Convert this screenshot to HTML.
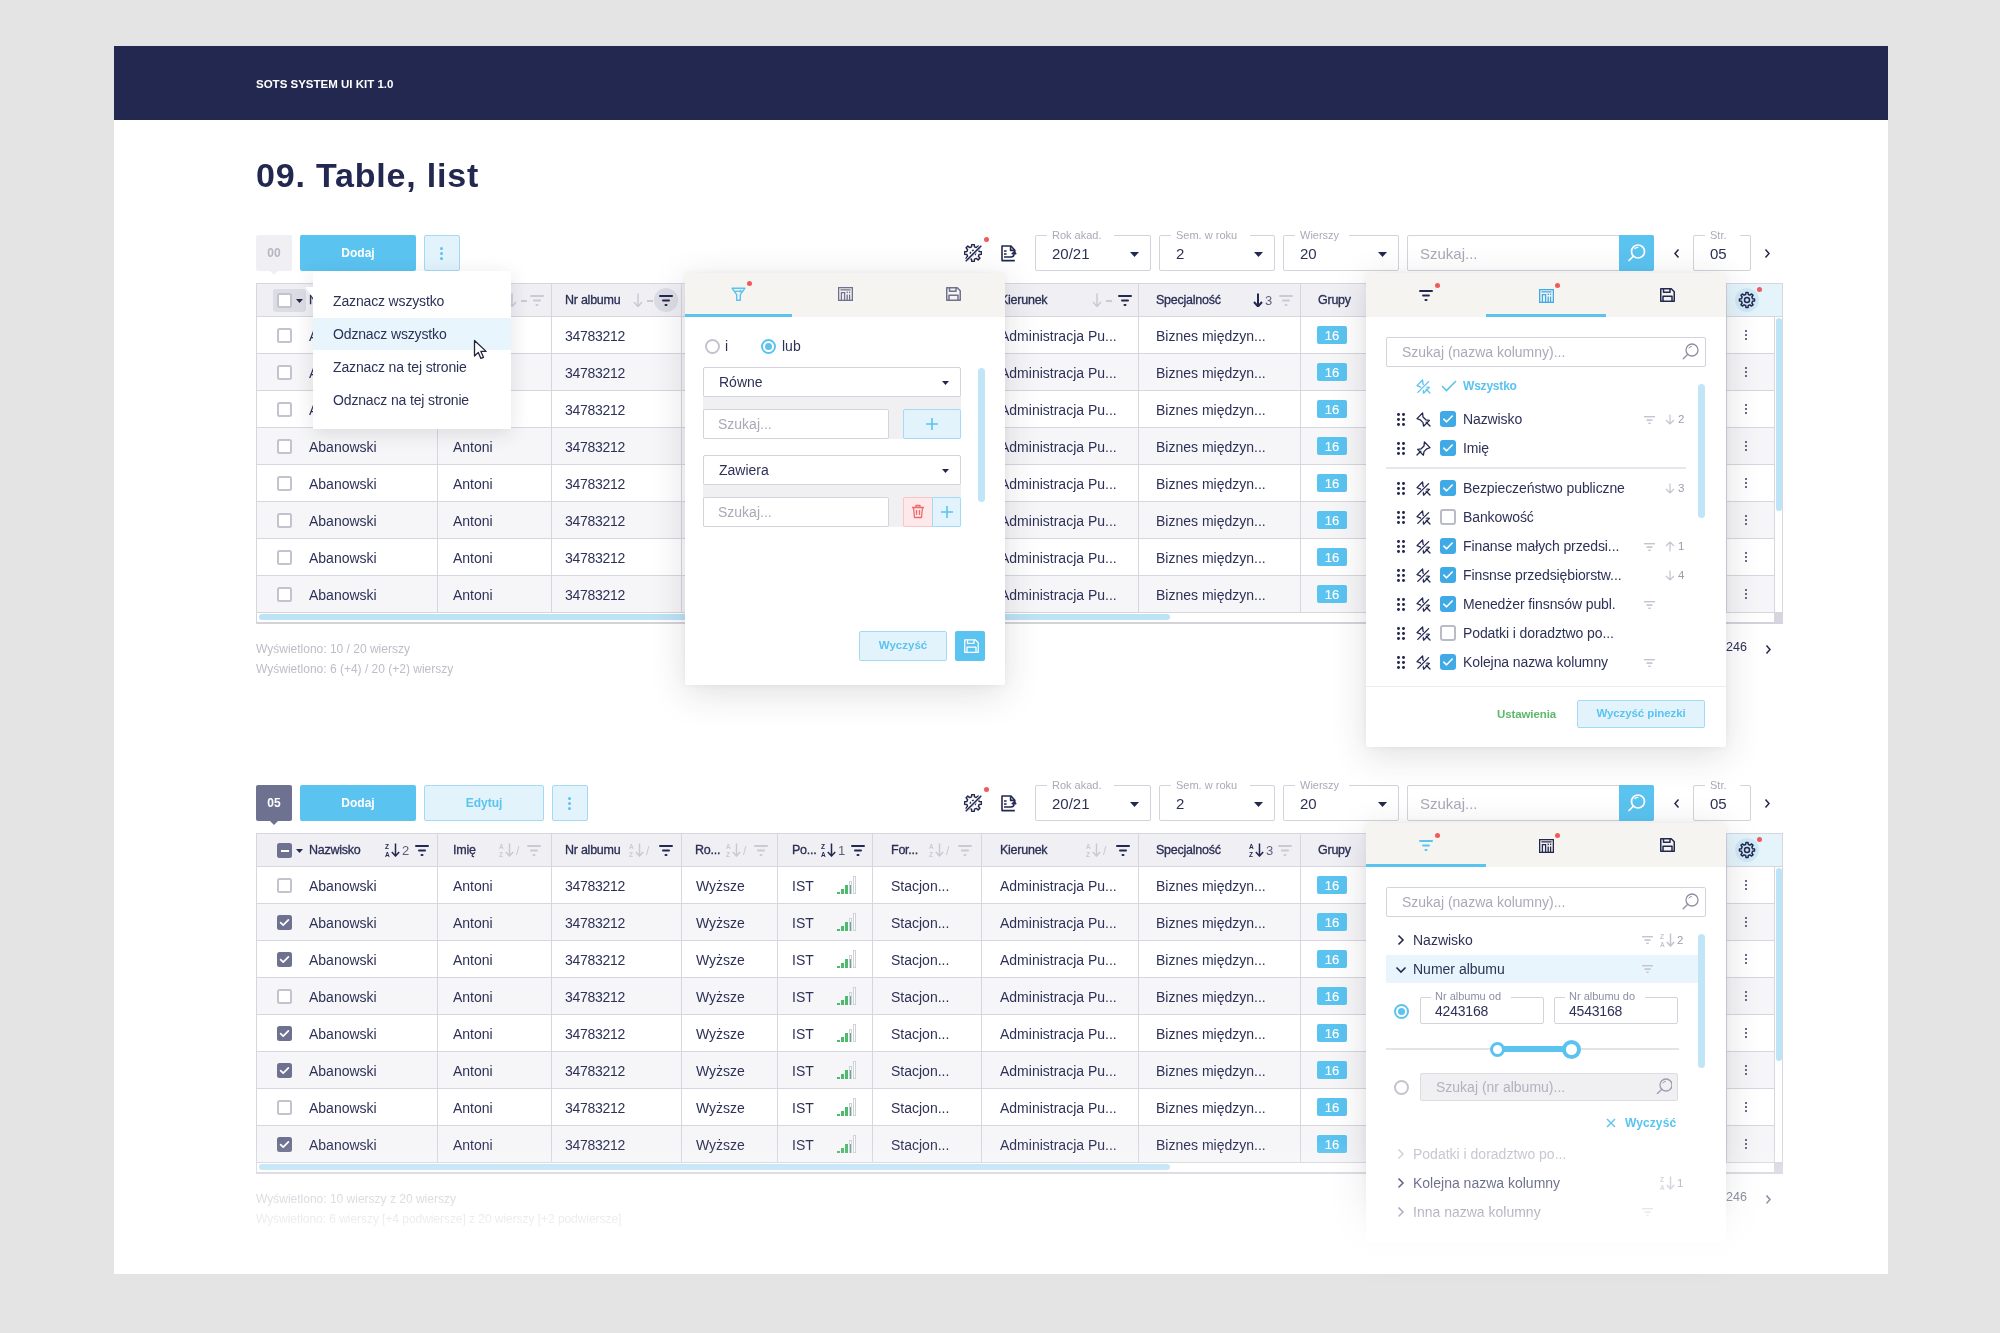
<!DOCTYPE html><html><head><meta charset="utf-8"><style>
*{margin:0;padding:0;box-sizing:border-box}
html,body{width:2000px;height:1333px;overflow:hidden}
body{background:#e3e4e3;font-family:"Liberation Sans",sans-serif;position:relative;color:#262a4f}
div,span,svg{position:absolute}
.t{white-space:nowrap;line-height:1}
#root{position:absolute;left:0;top:0;width:2000px;height:1333px;will-change:transform}
</style></head><body><div id="root">
<div style="left:0;top:0;width:2000px;height:1333px;background:#e3e4e3"></div>
<div style="left:114px;top:46px;width:1774px;height:1228px;background:#fff"></div>
<div style="left:114px;top:46px;width:1774px;height:74px;background:#232850"></div>
<div class="t" style="left:256px;top:79.27px;font-size:11.5px;color:#ffffff;font-weight:700;">SOTS SYSTEM UI KIT 1.0</div>
<div class="t" style="left:256px;top:158.22px;font-size:34px;color:#232850;font-weight:700;letter-spacing:0.8px">09. Table, list</div>
<div style="left:256px;top:235px;width:36px;height:36px;background:#f0f0f4;border-radius:2px"></div>
<div class="t" style="left:74px;width:400px;text-align:center;top:246.84px;font-size:12px;color:#b6b6c3;font-weight:700;">00</div>
<svg style="position:absolute;left:270px;top:271px;" width="8" height="4" viewBox="0 0 8 4" fill="none"><path d="M0 0H8L4 4z" fill="#f0f0f4"/></svg>
<div style="left:300px;top:235px;width:116px;height:36px;background:#5bc3f0;border-radius:2px"></div>
<div class="t" style="left:158px;width:400px;text-align:center;top:246.84px;font-size:12px;color:#fff;font-weight:700;">Dodaj</div>
<div style="left:424px;top:235px;width:36px;height:36px;background:#e2f3fc;border:1px solid #a3dbf5;border-radius:2px"></div>
<div style="left:440px;top:246.5px;width:3.4px;height:3.4px;background:#5bc3f0;border-radius:50%"></div>
<div style="left:440px;top:251.5px;width:3.4px;height:3.4px;background:#5bc3f0;border-radius:50%"></div>
<div style="left:440px;top:256.5px;width:3.4px;height:3.4px;background:#5bc3f0;border-radius:50%"></div>
<svg style="position:absolute;left:964px;top:244px;" width="18" height="18" viewBox="0 0 18 18" fill="none"><g stroke="#232850" stroke-width="1.5" stroke-linejoin="round" fill="none">
<path d="M7.48 2.89 L7.79 0.49 L10.21 0.49 L10.52 2.89 L12.25 3.60 L14.16 2.12 L15.88 3.84 L14.40 5.75 L15.11 7.48 L17.51 7.79 L17.51 10.21 L15.11 10.52 L14.40 12.25 L15.88 14.16 L14.16 15.88 L12.25 14.40 L10.52 15.11 L10.21 17.51 L7.79 17.51 L7.48 15.11 L5.75 14.40 L3.84 15.88 L2.12 14.16 L3.60 12.25 L2.89 10.52 L0.49 10.21 L0.49 7.79 L2.89 7.48 L3.60 5.75 L2.12 3.84 L3.84 2.12 L5.75 3.60Z"/><circle cx="9" cy="9" r="2.6" stroke-dasharray="2 1.6"/></g>
<path d="M1.8 17.2 17.2 1.8" stroke="#fff" stroke-width="3"/><path d="M2.2 16.8 16.8 2.2" stroke="#232850" stroke-width="1.6" stroke-linecap="round"/></svg>
<div style="left:983.5px;top:236.5px;width:5px;height:5px;background:#ef5a5a;border-radius:50%"></div>
<svg style="position:absolute;left:1001px;top:245px;" width="16" height="17" viewBox="0 0 16 17" fill="none"><g stroke="#232850" stroke-width="1.6" stroke-linejoin="round" stroke-linecap="butt" fill="none">
<path d="M13.8 9V5.2L10 1H1v14.6h12.8"/><path d="M9.6 1.2v4.2h4"/><path d="M3 6h2.6M3 9h2.6"/><path d="M3 12h7a3 3 0 0 0 3-3V7.4"/><path d="M10.8 9.2 13 7l2.2 2.2"/></g></svg>
<div style="left:1035px;top:235px;width:116px;height:36px;border:1px solid #d3d3dc;border-radius:2px;background:#fff"></div>
<div style="left:1047px;top:229px;width:66.69999999999999px;height:10px;background:#fff"></div>
<div class="t" style="left:1052px;top:229.69px;font-size:11px;color:#a9aab8;font-weight:400;">Rok akad.</div>
<div class="t" style="left:1052px;top:246.3px;font-size:15px;color:#2d3157;font-weight:400;">20/21</div>
<svg style="position:absolute;left:1130px;top:252px;" width="9" height="5" viewBox="0 0 9 5" fill="none"><path d="M0 0H9L4.5 5z" fill="#232850"/></svg>
<div style="left:1159px;top:235px;width:116px;height:36px;border:1px solid #d3d3dc;border-radius:2px;background:#fff"></div>
<div style="left:1171px;top:229px;width:79.3px;height:10px;background:#fff"></div>
<div class="t" style="left:1176px;top:229.69px;font-size:11px;color:#a9aab8;font-weight:400;">Sem. w roku</div>
<div class="t" style="left:1176px;top:246.3px;font-size:15px;color:#2d3157;font-weight:400;">2</div>
<svg style="position:absolute;left:1254px;top:252px;" width="9" height="5" viewBox="0 0 9 5" fill="none"><path d="M0 0H9L4.5 5z" fill="#232850"/></svg>
<div style="left:1283px;top:235px;width:116px;height:36px;border:1px solid #d3d3dc;border-radius:2px;background:#fff"></div>
<div style="left:1295px;top:229px;width:54.1px;height:10px;background:#fff"></div>
<div class="t" style="left:1300px;top:229.69px;font-size:11px;color:#a9aab8;font-weight:400;">Wierszy</div>
<div class="t" style="left:1300px;top:246.3px;font-size:15px;color:#2d3157;font-weight:400;">20</div>
<svg style="position:absolute;left:1378px;top:252px;" width="9" height="5" viewBox="0 0 9 5" fill="none"><path d="M0 0H9L4.5 5z" fill="#232850"/></svg>
<div style="left:1407px;top:235px;width:247px;height:36px;border:1px solid #d3d3dc;border-radius:2px;background:#fff"></div>
<div class="t" style="left:1420px;top:246.3px;font-size:15px;color:#a9aab8;font-weight:400;">Szukaj...</div>
<div style="left:1619px;top:235px;width:35px;height:36px;background:#5bc3f0;border-radius:0 2px 2px 0"></div>
<svg style="position:absolute;left:1627px;top:243px;" width="20" height="20" viewBox="0 0 20 20" fill="none"><g stroke="#fff" stroke-width="1.7" stroke-linecap="round"><circle cx="11" cy="8.5" r="6.5"/><path d="M6.4 13.1 2 17.5"/><path d="M8 5.5a4 4 0 0 1 3-1.2" stroke-width="1.3"/></g></svg>
<svg style="position:absolute;left:1673px;top:248px;" width="8" height="11" viewBox="0 0 8 11" fill="none"><path d="M5.5 1.5 2 5.5l3.5 4" stroke="#232850" stroke-width="1.5" fill="none"/></svg>
<div style="left:1693px;top:235px;width:58px;height:36px;border:1px solid #d3d3dc;border-radius:2px;background:#fff"></div>
<div style="left:1705px;top:229px;width:35.2px;height:10px;background:#fff"></div>
<div class="t" style="left:1710px;top:229.69px;font-size:11px;color:#a9aab8;font-weight:400;">Str.</div>
<div class="t" style="left:1710px;top:246.3px;font-size:15px;color:#2d3157;font-weight:400;">05</div>
<svg style="position:absolute;left:1763px;top:248px;" width="8" height="11" viewBox="0 0 8 11" fill="none"><path d="M2.5 1.5 6 5.5l-3.5 4" stroke="#232850" stroke-width="1.5" fill="none"/></svg>
<div style="left:256px;top:785px;width:36px;height:36px;background:#6f7190;border-radius:2px"></div>
<div class="t" style="left:74px;width:400px;text-align:center;top:796.84px;font-size:12px;color:#fff;font-weight:700;">05</div>
<svg style="position:absolute;left:270px;top:821px;" width="8" height="4" viewBox="0 0 8 4" fill="none"><path d="M0 0H8L4 4z" fill="#6f7190"/></svg>
<div style="left:300px;top:785px;width:116px;height:36px;background:#5bc3f0;border-radius:2px"></div>
<div class="t" style="left:158px;width:400px;text-align:center;top:796.84px;font-size:12px;color:#fff;font-weight:700;">Dodaj</div>
<div style="left:424px;top:785px;width:120px;height:36px;background:#e2f3fc;border:1px solid #a3dbf5;border-radius:2px"></div>
<div class="t" style="left:284px;width:400px;text-align:center;top:796.84px;font-size:12px;color:#5bc3f0;font-weight:700;">Edytuj</div>
<div style="left:552px;top:785px;width:36px;height:36px;background:#e2f3fc;border:1px solid #a3dbf5;border-radius:2px"></div>
<div style="left:568px;top:796.5px;width:3.4px;height:3.4px;background:#5bc3f0;border-radius:50%"></div>
<div style="left:568px;top:801.5px;width:3.4px;height:3.4px;background:#5bc3f0;border-radius:50%"></div>
<div style="left:568px;top:806.5px;width:3.4px;height:3.4px;background:#5bc3f0;border-radius:50%"></div>
<svg style="position:absolute;left:964px;top:794px;" width="18" height="18" viewBox="0 0 18 18" fill="none"><g stroke="#232850" stroke-width="1.5" stroke-linejoin="round" fill="none">
<path d="M7.48 2.89 L7.79 0.49 L10.21 0.49 L10.52 2.89 L12.25 3.60 L14.16 2.12 L15.88 3.84 L14.40 5.75 L15.11 7.48 L17.51 7.79 L17.51 10.21 L15.11 10.52 L14.40 12.25 L15.88 14.16 L14.16 15.88 L12.25 14.40 L10.52 15.11 L10.21 17.51 L7.79 17.51 L7.48 15.11 L5.75 14.40 L3.84 15.88 L2.12 14.16 L3.60 12.25 L2.89 10.52 L0.49 10.21 L0.49 7.79 L2.89 7.48 L3.60 5.75 L2.12 3.84 L3.84 2.12 L5.75 3.60Z"/><circle cx="9" cy="9" r="2.6" stroke-dasharray="2 1.6"/></g>
<path d="M1.8 17.2 17.2 1.8" stroke="#fff" stroke-width="3"/><path d="M2.2 16.8 16.8 2.2" stroke="#232850" stroke-width="1.6" stroke-linecap="round"/></svg>
<div style="left:983.5px;top:786.5px;width:5px;height:5px;background:#ef5a5a;border-radius:50%"></div>
<svg style="position:absolute;left:1001px;top:795px;" width="16" height="17" viewBox="0 0 16 17" fill="none"><g stroke="#232850" stroke-width="1.6" stroke-linejoin="round" stroke-linecap="butt" fill="none">
<path d="M13.8 9V5.2L10 1H1v14.6h12.8"/><path d="M9.6 1.2v4.2h4"/><path d="M3 6h2.6M3 9h2.6"/><path d="M3 12h7a3 3 0 0 0 3-3V7.4"/><path d="M10.8 9.2 13 7l2.2 2.2"/></g></svg>
<div style="left:1035px;top:785px;width:116px;height:36px;border:1px solid #d3d3dc;border-radius:2px;background:#fff"></div>
<div style="left:1047px;top:779px;width:66.69999999999999px;height:10px;background:#fff"></div>
<div class="t" style="left:1052px;top:779.69px;font-size:11px;color:#a9aab8;font-weight:400;">Rok akad.</div>
<div class="t" style="left:1052px;top:796.3px;font-size:15px;color:#2d3157;font-weight:400;">20/21</div>
<svg style="position:absolute;left:1130px;top:802px;" width="9" height="5" viewBox="0 0 9 5" fill="none"><path d="M0 0H9L4.5 5z" fill="#232850"/></svg>
<div style="left:1159px;top:785px;width:116px;height:36px;border:1px solid #d3d3dc;border-radius:2px;background:#fff"></div>
<div style="left:1171px;top:779px;width:79.3px;height:10px;background:#fff"></div>
<div class="t" style="left:1176px;top:779.69px;font-size:11px;color:#a9aab8;font-weight:400;">Sem. w roku</div>
<div class="t" style="left:1176px;top:796.3px;font-size:15px;color:#2d3157;font-weight:400;">2</div>
<svg style="position:absolute;left:1254px;top:802px;" width="9" height="5" viewBox="0 0 9 5" fill="none"><path d="M0 0H9L4.5 5z" fill="#232850"/></svg>
<div style="left:1283px;top:785px;width:116px;height:36px;border:1px solid #d3d3dc;border-radius:2px;background:#fff"></div>
<div style="left:1295px;top:779px;width:54.1px;height:10px;background:#fff"></div>
<div class="t" style="left:1300px;top:779.69px;font-size:11px;color:#a9aab8;font-weight:400;">Wierszy</div>
<div class="t" style="left:1300px;top:796.3px;font-size:15px;color:#2d3157;font-weight:400;">20</div>
<svg style="position:absolute;left:1378px;top:802px;" width="9" height="5" viewBox="0 0 9 5" fill="none"><path d="M0 0H9L4.5 5z" fill="#232850"/></svg>
<div style="left:1407px;top:785px;width:247px;height:36px;border:1px solid #d3d3dc;border-radius:2px;background:#fff"></div>
<div class="t" style="left:1420px;top:796.3px;font-size:15px;color:#a9aab8;font-weight:400;">Szukaj...</div>
<div style="left:1619px;top:785px;width:35px;height:36px;background:#5bc3f0;border-radius:0 2px 2px 0"></div>
<svg style="position:absolute;left:1627px;top:793px;" width="20" height="20" viewBox="0 0 20 20" fill="none"><g stroke="#fff" stroke-width="1.7" stroke-linecap="round"><circle cx="11" cy="8.5" r="6.5"/><path d="M6.4 13.1 2 17.5"/><path d="M8 5.5a4 4 0 0 1 3-1.2" stroke-width="1.3"/></g></svg>
<svg style="position:absolute;left:1673px;top:798px;" width="8" height="11" viewBox="0 0 8 11" fill="none"><path d="M5.5 1.5 2 5.5l3.5 4" stroke="#232850" stroke-width="1.5" fill="none"/></svg>
<div style="left:1693px;top:785px;width:58px;height:36px;border:1px solid #d3d3dc;border-radius:2px;background:#fff"></div>
<div style="left:1705px;top:779px;width:35.2px;height:10px;background:#fff"></div>
<div class="t" style="left:1710px;top:779.69px;font-size:11px;color:#a9aab8;font-weight:400;">Str.</div>
<div class="t" style="left:1710px;top:796.3px;font-size:15px;color:#2d3157;font-weight:400;">05</div>
<svg style="position:absolute;left:1763px;top:798px;" width="8" height="11" viewBox="0 0 8 11" fill="none"><path d="M2.5 1.5 6 5.5l-3.5 4" stroke="#232850" stroke-width="1.5" fill="none"/></svg>
<div style="left:256px;top:283px;width:1527px;height:341px;border:1px solid #d6d6df;border-bottom:2px solid #d3d3dc;background:#fff"></div>
<div style="left:257px;top:284px;width:1525px;height:32px;background:#efeff4"></div>
<div style="left:257px;top:317px;width:1517px;height:36px;background:#fff"></div>
<div style="left:257px;top:353px;width:1517px;height:1px;background:#d6d6df"></div>
<div style="left:257px;top:354px;width:1517px;height:36px;background:#f6f6f8"></div>
<div style="left:257px;top:390px;width:1517px;height:1px;background:#d6d6df"></div>
<div style="left:257px;top:391px;width:1517px;height:36px;background:#fff"></div>
<div style="left:257px;top:427px;width:1517px;height:1px;background:#d6d6df"></div>
<div style="left:257px;top:428px;width:1517px;height:36px;background:#f6f6f8"></div>
<div style="left:257px;top:464px;width:1517px;height:1px;background:#d6d6df"></div>
<div style="left:257px;top:465px;width:1517px;height:36px;background:#fff"></div>
<div style="left:257px;top:501px;width:1517px;height:1px;background:#d6d6df"></div>
<div style="left:257px;top:502px;width:1517px;height:36px;background:#f6f6f8"></div>
<div style="left:257px;top:538px;width:1517px;height:1px;background:#d6d6df"></div>
<div style="left:257px;top:539px;width:1517px;height:36px;background:#fff"></div>
<div style="left:257px;top:575px;width:1517px;height:1px;background:#d6d6df"></div>
<div style="left:257px;top:576px;width:1517px;height:36px;background:#f6f6f8"></div>
<div style="left:257px;top:612px;width:1517px;height:1px;background:#d6d6df"></div>
<div style="left:257px;top:316px;width:1525px;height:1px;background:#d6d6df"></div>
<div style="left:437px;top:284px;width:1px;height:329px;background:#d6d6df"></div>
<div style="left:551px;top:284px;width:1px;height:329px;background:#d6d6df"></div>
<div style="left:681px;top:284px;width:1px;height:329px;background:#d6d6df"></div>
<div style="left:777px;top:284px;width:1px;height:329px;background:#d6d6df"></div>
<div style="left:872px;top:284px;width:1px;height:329px;background:#d6d6df"></div>
<div style="left:981px;top:284px;width:1px;height:329px;background:#d6d6df"></div>
<div style="left:1138px;top:284px;width:1px;height:329px;background:#d6d6df"></div>
<div style="left:1300px;top:284px;width:1px;height:329px;background:#d6d6df"></div>
<div style="left:1726px;top:284px;width:1px;height:329px;background:#d6d6df"></div>
<div style="left:1774px;top:317px;width:1px;height:296px;background:#d6d6df"></div>
<div style="left:1727px;top:284px;width:55px;height:32px;background:#e5f4fb"></div>
<div style="left:1735px;top:288px;width:24px;height:24px;background:#d0e9f6;border-radius:50%"></div>
<svg style="position:absolute;left:1738px;top:291px;" width="18" height="18" viewBox="0 0 18 18" fill="none"><g stroke="#232850" stroke-width="1.5" fill="none" stroke-linejoin="round"><path d="M7.67 3.46 L7.99 1.47 L10.01 1.47 L10.33 3.46 L11.98 4.14 L13.61 2.96 L15.04 4.39 L13.86 6.02 L14.54 7.67 L16.53 7.99 L16.53 10.01 L14.54 10.33 L13.86 11.98 L15.04 13.61 L13.61 15.04 L11.98 13.86 L10.33 14.54 L10.01 16.53 L7.99 16.53 L7.67 14.54 L6.02 13.86 L4.39 15.04 L2.96 13.61 L4.14 11.98 L3.46 10.33 L1.47 10.01 L1.47 7.99 L3.46 7.67 L4.14 6.02 L2.96 4.39 L4.39 2.96 L6.02 4.14Z"/><circle cx="9" cy="9" r="2.5"/></g></svg>
<div style="left:1757px;top:287px;width:5px;height:5px;background:#ef5a5a;border-radius:50%"></div>
<div style="left:1744.65px;top:329.75px;width:2.7px;height:2.7px;background:#3a3d60;border-radius:50%"></div>
<div style="left:1744.65px;top:333.65px;width:2.7px;height:2.7px;background:#3a3d60;border-radius:50%"></div>
<div style="left:1744.65px;top:337.54999999999995px;width:2.7px;height:2.7px;background:#3a3d60;border-radius:50%"></div>
<div style="left:1744.65px;top:366.75px;width:2.7px;height:2.7px;background:#3a3d60;border-radius:50%"></div>
<div style="left:1744.65px;top:370.65px;width:2.7px;height:2.7px;background:#3a3d60;border-radius:50%"></div>
<div style="left:1744.65px;top:374.54999999999995px;width:2.7px;height:2.7px;background:#3a3d60;border-radius:50%"></div>
<div style="left:1744.65px;top:403.75px;width:2.7px;height:2.7px;background:#3a3d60;border-radius:50%"></div>
<div style="left:1744.65px;top:407.65px;width:2.7px;height:2.7px;background:#3a3d60;border-radius:50%"></div>
<div style="left:1744.65px;top:411.54999999999995px;width:2.7px;height:2.7px;background:#3a3d60;border-radius:50%"></div>
<div style="left:1744.65px;top:440.75px;width:2.7px;height:2.7px;background:#3a3d60;border-radius:50%"></div>
<div style="left:1744.65px;top:444.65px;width:2.7px;height:2.7px;background:#3a3d60;border-radius:50%"></div>
<div style="left:1744.65px;top:448.54999999999995px;width:2.7px;height:2.7px;background:#3a3d60;border-radius:50%"></div>
<div style="left:1744.65px;top:477.75px;width:2.7px;height:2.7px;background:#3a3d60;border-radius:50%"></div>
<div style="left:1744.65px;top:481.65px;width:2.7px;height:2.7px;background:#3a3d60;border-radius:50%"></div>
<div style="left:1744.65px;top:485.54999999999995px;width:2.7px;height:2.7px;background:#3a3d60;border-radius:50%"></div>
<div style="left:1744.65px;top:514.75px;width:2.7px;height:2.7px;background:#3a3d60;border-radius:50%"></div>
<div style="left:1744.65px;top:518.65px;width:2.7px;height:2.7px;background:#3a3d60;border-radius:50%"></div>
<div style="left:1744.65px;top:522.55px;width:2.7px;height:2.7px;background:#3a3d60;border-radius:50%"></div>
<div style="left:1744.65px;top:551.75px;width:2.7px;height:2.7px;background:#3a3d60;border-radius:50%"></div>
<div style="left:1744.65px;top:555.65px;width:2.7px;height:2.7px;background:#3a3d60;border-radius:50%"></div>
<div style="left:1744.65px;top:559.55px;width:2.7px;height:2.7px;background:#3a3d60;border-radius:50%"></div>
<div style="left:1744.65px;top:588.75px;width:2.7px;height:2.7px;background:#3a3d60;border-radius:50%"></div>
<div style="left:1744.65px;top:592.65px;width:2.7px;height:2.7px;background:#3a3d60;border-radius:50%"></div>
<div style="left:1744.65px;top:596.55px;width:2.7px;height:2.7px;background:#3a3d60;border-radius:50%"></div>
<div style="left:1712px;top:317px;width:14px;height:296px;background:linear-gradient(90deg,rgba(0,0,0,0),rgba(0,0,0,0.035))"></div>
<div style="left:1776px;top:318px;width:6px;height:193px;background:#bde3f6;border-radius:3px"></div>
<div style="left:1774px;top:612px;width:8px;height:10px;background:#d6d6df"></div>
<div style="left:259px;top:614px;width:911px;height:6px;background:#bde3f6;border-radius:3px"></div>
<div class="t" style="left:309px;top:328.75px;font-size:14px;color:#2d3157;font-weight:400;">Abanowski</div>
<div class="t" style="left:453px;top:328.75px;font-size:14px;color:#2d3157;font-weight:400;">Antoni</div>
<div class="t" style="left:565px;top:328.75px;font-size:14px;color:#2d3157;font-weight:400;letter-spacing:-0.3px">34783212</div>
<div class="t" style="left:696px;top:328.75px;font-size:14px;color:#2d3157;font-weight:400;">Wyższe</div>
<div class="t" style="left:792px;top:328.75px;font-size:14px;color:#2d3157;font-weight:400;">IST</div>
<div style="left:837px;top:342px;width:3px;height:2px;background:#4fba6f"></div>
<div style="left:841px;top:339px;width:3px;height:5px;background:#4fba6f"></div>
<div style="left:845px;top:335px;width:3px;height:9px;background:#4fba6f"></div>
<div style="left:849px;top:331px;width:3px;height:13px;background:#4fba6f;border:1px solid #cfd0da;border-bottom:0;background:linear-gradient(#fff 0 3px,#4fba6f 3px)"></div>
<div style="left:853px;top:326px;width:3px;height:18px;border:1px solid #cfd0da;background:#fff"></div>
<div class="t" style="left:891px;top:328.75px;font-size:14px;color:#2d3157;font-weight:400;">Stacjon...</div>
<div class="t" style="left:1000px;top:328.75px;font-size:14px;color:#2d3157;font-weight:400;">Administracja Pu...</div>
<div class="t" style="left:1156px;top:328.75px;font-size:14px;color:#2d3157;font-weight:400;">Biznes międzyn...</div>
<div style="left:1317px;top:326px;width:30px;height:18px;background:#5bc3f0;border-radius:2px"></div>
<div class="t" style="left:1132px;width:400px;text-align:center;top:328.5px;font-size:13px;color:#fff;font-weight:400;-webkit-text-stroke:0.15px #fff">16</div>
<div style="left:277px;top:328px;width:15px;height:15px;border:2px solid #c3c3cf;border-radius:2.5px;background:#fff"></div>
<div class="t" style="left:309px;top:365.75px;font-size:14px;color:#2d3157;font-weight:400;">Abanowski</div>
<div class="t" style="left:453px;top:365.75px;font-size:14px;color:#2d3157;font-weight:400;">Antoni</div>
<div class="t" style="left:565px;top:365.75px;font-size:14px;color:#2d3157;font-weight:400;letter-spacing:-0.3px">34783212</div>
<div class="t" style="left:696px;top:365.75px;font-size:14px;color:#2d3157;font-weight:400;">Wyższe</div>
<div class="t" style="left:792px;top:365.75px;font-size:14px;color:#2d3157;font-weight:400;">IST</div>
<div style="left:837px;top:379px;width:3px;height:2px;background:#4fba6f"></div>
<div style="left:841px;top:376px;width:3px;height:5px;background:#4fba6f"></div>
<div style="left:845px;top:372px;width:3px;height:9px;background:#4fba6f"></div>
<div style="left:849px;top:368px;width:3px;height:13px;background:#4fba6f;border:1px solid #cfd0da;border-bottom:0;background:linear-gradient(#fff 0 3px,#4fba6f 3px)"></div>
<div style="left:853px;top:363px;width:3px;height:18px;border:1px solid #cfd0da;background:#fff"></div>
<div class="t" style="left:891px;top:365.75px;font-size:14px;color:#2d3157;font-weight:400;">Stacjon...</div>
<div class="t" style="left:1000px;top:365.75px;font-size:14px;color:#2d3157;font-weight:400;">Administracja Pu...</div>
<div class="t" style="left:1156px;top:365.75px;font-size:14px;color:#2d3157;font-weight:400;">Biznes międzyn...</div>
<div style="left:1317px;top:363px;width:30px;height:18px;background:#5bc3f0;border-radius:2px"></div>
<div class="t" style="left:1132px;width:400px;text-align:center;top:365.5px;font-size:13px;color:#fff;font-weight:400;-webkit-text-stroke:0.15px #fff">16</div>
<div style="left:277px;top:365px;width:15px;height:15px;border:2px solid #c3c3cf;border-radius:2.5px;background:#fff"></div>
<div class="t" style="left:309px;top:402.75px;font-size:14px;color:#2d3157;font-weight:400;">Abanowski</div>
<div class="t" style="left:453px;top:402.75px;font-size:14px;color:#2d3157;font-weight:400;">Antoni</div>
<div class="t" style="left:565px;top:402.75px;font-size:14px;color:#2d3157;font-weight:400;letter-spacing:-0.3px">34783212</div>
<div class="t" style="left:696px;top:402.75px;font-size:14px;color:#2d3157;font-weight:400;">Wyższe</div>
<div class="t" style="left:792px;top:402.75px;font-size:14px;color:#2d3157;font-weight:400;">IST</div>
<div style="left:837px;top:416px;width:3px;height:2px;background:#4fba6f"></div>
<div style="left:841px;top:413px;width:3px;height:5px;background:#4fba6f"></div>
<div style="left:845px;top:409px;width:3px;height:9px;background:#4fba6f"></div>
<div style="left:849px;top:405px;width:3px;height:13px;background:#4fba6f;border:1px solid #cfd0da;border-bottom:0;background:linear-gradient(#fff 0 3px,#4fba6f 3px)"></div>
<div style="left:853px;top:400px;width:3px;height:18px;border:1px solid #cfd0da;background:#fff"></div>
<div class="t" style="left:891px;top:402.75px;font-size:14px;color:#2d3157;font-weight:400;">Stacjon...</div>
<div class="t" style="left:1000px;top:402.75px;font-size:14px;color:#2d3157;font-weight:400;">Administracja Pu...</div>
<div class="t" style="left:1156px;top:402.75px;font-size:14px;color:#2d3157;font-weight:400;">Biznes międzyn...</div>
<div style="left:1317px;top:400px;width:30px;height:18px;background:#5bc3f0;border-radius:2px"></div>
<div class="t" style="left:1132px;width:400px;text-align:center;top:402.5px;font-size:13px;color:#fff;font-weight:400;-webkit-text-stroke:0.15px #fff">16</div>
<div style="left:277px;top:402px;width:15px;height:15px;border:2px solid #c3c3cf;border-radius:2.5px;background:#fff"></div>
<div class="t" style="left:309px;top:439.75px;font-size:14px;color:#2d3157;font-weight:400;">Abanowski</div>
<div class="t" style="left:453px;top:439.75px;font-size:14px;color:#2d3157;font-weight:400;">Antoni</div>
<div class="t" style="left:565px;top:439.75px;font-size:14px;color:#2d3157;font-weight:400;letter-spacing:-0.3px">34783212</div>
<div class="t" style="left:696px;top:439.75px;font-size:14px;color:#2d3157;font-weight:400;">Wyższe</div>
<div class="t" style="left:792px;top:439.75px;font-size:14px;color:#2d3157;font-weight:400;">IST</div>
<div style="left:837px;top:453px;width:3px;height:2px;background:#4fba6f"></div>
<div style="left:841px;top:450px;width:3px;height:5px;background:#4fba6f"></div>
<div style="left:845px;top:446px;width:3px;height:9px;background:#4fba6f"></div>
<div style="left:849px;top:442px;width:3px;height:13px;background:#4fba6f;border:1px solid #cfd0da;border-bottom:0;background:linear-gradient(#fff 0 3px,#4fba6f 3px)"></div>
<div style="left:853px;top:437px;width:3px;height:18px;border:1px solid #cfd0da;background:#fff"></div>
<div class="t" style="left:891px;top:439.75px;font-size:14px;color:#2d3157;font-weight:400;">Stacjon...</div>
<div class="t" style="left:1000px;top:439.75px;font-size:14px;color:#2d3157;font-weight:400;">Administracja Pu...</div>
<div class="t" style="left:1156px;top:439.75px;font-size:14px;color:#2d3157;font-weight:400;">Biznes międzyn...</div>
<div style="left:1317px;top:437px;width:30px;height:18px;background:#5bc3f0;border-radius:2px"></div>
<div class="t" style="left:1132px;width:400px;text-align:center;top:439.5px;font-size:13px;color:#fff;font-weight:400;-webkit-text-stroke:0.15px #fff">16</div>
<div style="left:277px;top:439px;width:15px;height:15px;border:2px solid #c3c3cf;border-radius:2.5px;background:#fff"></div>
<div class="t" style="left:309px;top:476.75px;font-size:14px;color:#2d3157;font-weight:400;">Abanowski</div>
<div class="t" style="left:453px;top:476.75px;font-size:14px;color:#2d3157;font-weight:400;">Antoni</div>
<div class="t" style="left:565px;top:476.75px;font-size:14px;color:#2d3157;font-weight:400;letter-spacing:-0.3px">34783212</div>
<div class="t" style="left:696px;top:476.75px;font-size:14px;color:#2d3157;font-weight:400;">Wyższe</div>
<div class="t" style="left:792px;top:476.75px;font-size:14px;color:#2d3157;font-weight:400;">IST</div>
<div style="left:837px;top:490px;width:3px;height:2px;background:#4fba6f"></div>
<div style="left:841px;top:487px;width:3px;height:5px;background:#4fba6f"></div>
<div style="left:845px;top:483px;width:3px;height:9px;background:#4fba6f"></div>
<div style="left:849px;top:479px;width:3px;height:13px;background:#4fba6f;border:1px solid #cfd0da;border-bottom:0;background:linear-gradient(#fff 0 3px,#4fba6f 3px)"></div>
<div style="left:853px;top:474px;width:3px;height:18px;border:1px solid #cfd0da;background:#fff"></div>
<div class="t" style="left:891px;top:476.75px;font-size:14px;color:#2d3157;font-weight:400;">Stacjon...</div>
<div class="t" style="left:1000px;top:476.75px;font-size:14px;color:#2d3157;font-weight:400;">Administracja Pu...</div>
<div class="t" style="left:1156px;top:476.75px;font-size:14px;color:#2d3157;font-weight:400;">Biznes międzyn...</div>
<div style="left:1317px;top:474px;width:30px;height:18px;background:#5bc3f0;border-radius:2px"></div>
<div class="t" style="left:1132px;width:400px;text-align:center;top:476.5px;font-size:13px;color:#fff;font-weight:400;-webkit-text-stroke:0.15px #fff">16</div>
<div style="left:277px;top:476px;width:15px;height:15px;border:2px solid #c3c3cf;border-radius:2.5px;background:#fff"></div>
<div class="t" style="left:309px;top:513.75px;font-size:14px;color:#2d3157;font-weight:400;">Abanowski</div>
<div class="t" style="left:453px;top:513.75px;font-size:14px;color:#2d3157;font-weight:400;">Antoni</div>
<div class="t" style="left:565px;top:513.75px;font-size:14px;color:#2d3157;font-weight:400;letter-spacing:-0.3px">34783212</div>
<div class="t" style="left:696px;top:513.75px;font-size:14px;color:#2d3157;font-weight:400;">Wyższe</div>
<div class="t" style="left:792px;top:513.75px;font-size:14px;color:#2d3157;font-weight:400;">IST</div>
<div style="left:837px;top:527px;width:3px;height:2px;background:#4fba6f"></div>
<div style="left:841px;top:524px;width:3px;height:5px;background:#4fba6f"></div>
<div style="left:845px;top:520px;width:3px;height:9px;background:#4fba6f"></div>
<div style="left:849px;top:516px;width:3px;height:13px;background:#4fba6f;border:1px solid #cfd0da;border-bottom:0;background:linear-gradient(#fff 0 3px,#4fba6f 3px)"></div>
<div style="left:853px;top:511px;width:3px;height:18px;border:1px solid #cfd0da;background:#fff"></div>
<div class="t" style="left:891px;top:513.75px;font-size:14px;color:#2d3157;font-weight:400;">Stacjon...</div>
<div class="t" style="left:1000px;top:513.75px;font-size:14px;color:#2d3157;font-weight:400;">Administracja Pu...</div>
<div class="t" style="left:1156px;top:513.75px;font-size:14px;color:#2d3157;font-weight:400;">Biznes międzyn...</div>
<div style="left:1317px;top:511px;width:30px;height:18px;background:#5bc3f0;border-radius:2px"></div>
<div class="t" style="left:1132px;width:400px;text-align:center;top:513.5px;font-size:13px;color:#fff;font-weight:400;-webkit-text-stroke:0.15px #fff">16</div>
<div style="left:277px;top:513px;width:15px;height:15px;border:2px solid #c3c3cf;border-radius:2.5px;background:#fff"></div>
<div class="t" style="left:309px;top:550.75px;font-size:14px;color:#2d3157;font-weight:400;">Abanowski</div>
<div class="t" style="left:453px;top:550.75px;font-size:14px;color:#2d3157;font-weight:400;">Antoni</div>
<div class="t" style="left:565px;top:550.75px;font-size:14px;color:#2d3157;font-weight:400;letter-spacing:-0.3px">34783212</div>
<div class="t" style="left:696px;top:550.75px;font-size:14px;color:#2d3157;font-weight:400;">Wyższe</div>
<div class="t" style="left:792px;top:550.75px;font-size:14px;color:#2d3157;font-weight:400;">IST</div>
<div style="left:837px;top:564px;width:3px;height:2px;background:#4fba6f"></div>
<div style="left:841px;top:561px;width:3px;height:5px;background:#4fba6f"></div>
<div style="left:845px;top:557px;width:3px;height:9px;background:#4fba6f"></div>
<div style="left:849px;top:553px;width:3px;height:13px;background:#4fba6f;border:1px solid #cfd0da;border-bottom:0;background:linear-gradient(#fff 0 3px,#4fba6f 3px)"></div>
<div style="left:853px;top:548px;width:3px;height:18px;border:1px solid #cfd0da;background:#fff"></div>
<div class="t" style="left:891px;top:550.75px;font-size:14px;color:#2d3157;font-weight:400;">Stacjon...</div>
<div class="t" style="left:1000px;top:550.75px;font-size:14px;color:#2d3157;font-weight:400;">Administracja Pu...</div>
<div class="t" style="left:1156px;top:550.75px;font-size:14px;color:#2d3157;font-weight:400;">Biznes międzyn...</div>
<div style="left:1317px;top:548px;width:30px;height:18px;background:#5bc3f0;border-radius:2px"></div>
<div class="t" style="left:1132px;width:400px;text-align:center;top:550.5px;font-size:13px;color:#fff;font-weight:400;-webkit-text-stroke:0.15px #fff">16</div>
<div style="left:277px;top:550px;width:15px;height:15px;border:2px solid #c3c3cf;border-radius:2.5px;background:#fff"></div>
<div class="t" style="left:309px;top:587.75px;font-size:14px;color:#2d3157;font-weight:400;">Abanowski</div>
<div class="t" style="left:453px;top:587.75px;font-size:14px;color:#2d3157;font-weight:400;">Antoni</div>
<div class="t" style="left:565px;top:587.75px;font-size:14px;color:#2d3157;font-weight:400;letter-spacing:-0.3px">34783212</div>
<div class="t" style="left:696px;top:587.75px;font-size:14px;color:#2d3157;font-weight:400;">Wyższe</div>
<div class="t" style="left:792px;top:587.75px;font-size:14px;color:#2d3157;font-weight:400;">IST</div>
<div style="left:837px;top:601px;width:3px;height:2px;background:#4fba6f"></div>
<div style="left:841px;top:598px;width:3px;height:5px;background:#4fba6f"></div>
<div style="left:845px;top:594px;width:3px;height:9px;background:#4fba6f"></div>
<div style="left:849px;top:590px;width:3px;height:13px;background:#4fba6f;border:1px solid #cfd0da;border-bottom:0;background:linear-gradient(#fff 0 3px,#4fba6f 3px)"></div>
<div style="left:853px;top:585px;width:3px;height:18px;border:1px solid #cfd0da;background:#fff"></div>
<div class="t" style="left:891px;top:587.75px;font-size:14px;color:#2d3157;font-weight:400;">Stacjon...</div>
<div class="t" style="left:1000px;top:587.75px;font-size:14px;color:#2d3157;font-weight:400;">Administracja Pu...</div>
<div class="t" style="left:1156px;top:587.75px;font-size:14px;color:#2d3157;font-weight:400;">Biznes międzyn...</div>
<div style="left:1317px;top:585px;width:30px;height:18px;background:#5bc3f0;border-radius:2px"></div>
<div class="t" style="left:1132px;width:400px;text-align:center;top:587.5px;font-size:13px;color:#fff;font-weight:400;-webkit-text-stroke:0.15px #fff">16</div>
<div style="left:277px;top:587px;width:15px;height:15px;border:2px solid #c3c3cf;border-radius:2.5px;background:#fff"></div>
<div style="left:273px;top:289px;width:33px;height:23px;background:#dcdce4;border-radius:3px"></div>
<div style="left:277px;top:293px;width:15px;height:15px;border:2px solid #c3c3cf;border-radius:2.5px;background:#fff"></div>
<svg style="position:absolute;left:296px;top:299px;" width="7" height="4" viewBox="0 0 7 4" fill="none"><path d="M0 0H7L3.5 4z" fill="#232850"/></svg>
<div class="t" style="left:309px;top:294.42px;font-size:12.5px;color:#2d3157;font-weight:400;letter-spacing:-0.25px;-webkit-text-stroke:0.3px #262a4f">Nazwisko</div>
<div class="t" style="left:453px;top:294.42px;font-size:12.5px;color:#2d3157;font-weight:400;letter-spacing:-0.25px;-webkit-text-stroke:0.3px #262a4f">Imię</div>
<svg style="position:absolute;left:507px;top:293px;" width="10" height="14" viewBox="0 0 10 14" fill="none"><path d="M5.0 0.5v13M1 9l4.0 4.5l4.0 -4.5" stroke="#c9cad6" stroke-width="1.5" fill="none"/></svg>
<div style="left:521px;top:300px;width:6px;height:1.5px;background:#c9cad6"></div>
<svg style="position:absolute;left:530px;top:295px;" width="14" height="11" viewBox="0 0 14 11" fill="none"><g fill="#c9cad6"><rect x="0" y="0" width="14" height="2" rx="1"/><rect x="3" y="4.5" width="8" height="2" rx="1"/><rect x="5.5" y="9" width="3" height="2" rx="1"/></g></svg>
<div class="t" style="left:565px;top:294.42px;font-size:12.5px;color:#2d3157;font-weight:400;letter-spacing:-0.25px;-webkit-text-stroke:0.3px #262a4f">Nr albumu</div>
<svg style="position:absolute;left:633px;top:293px;" width="10" height="14" viewBox="0 0 10 14" fill="none"><path d="M5.0 0.5v13M1 9l4.0 4.5l4.0 -4.5" stroke="#c9cad6" stroke-width="1.5" fill="none"/></svg>
<div style="left:647px;top:300px;width:6px;height:1.5px;background:#c9cad6"></div>
<div style="left:654px;top:288px;width:24px;height:24px;background:#dcdce4;border-radius:50%"></div>
<svg style="position:absolute;left:659px;top:295px;" width="14" height="11" viewBox="0 0 14 11" fill="none"><g fill="#232850"><rect x="0" y="0" width="14" height="2" rx="1"/><rect x="3" y="4.5" width="8" height="2" rx="1"/><rect x="5.5" y="9" width="3" height="2" rx="1"/></g></svg>
<div class="t" style="left:1000px;top:294.42px;font-size:12.5px;color:#2d3157;font-weight:400;letter-spacing:-0.25px;-webkit-text-stroke:0.3px #262a4f">Kierunek</div>
<svg style="position:absolute;left:1092px;top:293px;" width="10" height="14" viewBox="0 0 10 14" fill="none"><path d="M5.0 0.5v13M1 9l4.0 4.5l4.0 -4.5" stroke="#c9cad6" stroke-width="1.5" fill="none"/></svg>
<div style="left:1106px;top:300px;width:6px;height:1.5px;background:#c9cad6"></div>
<svg style="position:absolute;left:1118px;top:295px;" width="14" height="11" viewBox="0 0 14 11" fill="none"><g fill="#232850"><rect x="0" y="0" width="14" height="2" rx="1"/><rect x="3" y="4.5" width="8" height="2" rx="1"/><rect x="5.5" y="9" width="3" height="2" rx="1"/></g></svg>
<div class="t" style="left:1156px;top:294.42px;font-size:12.5px;color:#2d3157;font-weight:400;letter-spacing:-0.25px;-webkit-text-stroke:0.3px #262a4f">Specjalność</div>
<svg style="position:absolute;left:1253px;top:293px;" width="10" height="14" viewBox="0 0 10 14" fill="none"><path d="M5.0 0.5v13M1 9l4.0 4.5l4.0 -4.5" stroke="#232850" stroke-width="2" fill="none"/></svg>
<div class="t" style="left:1265px;top:294.0px;font-size:13px;color:#5c5f7c;font-weight:400;">3</div>
<svg style="position:absolute;left:1279px;top:295px;" width="14" height="11" viewBox="0 0 14 11" fill="none"><g fill="#c9cad6"><rect x="0" y="0" width="14" height="2" rx="1"/><rect x="3" y="4.5" width="8" height="2" rx="1"/><rect x="5.5" y="9" width="3" height="2" rx="1"/></g></svg>
<div class="t" style="left:1318px;top:294.42px;font-size:12.5px;color:#2d3157;font-weight:400;letter-spacing:-0.25px;-webkit-text-stroke:0.3px #262a4f">Grupy</div>
<div style="left:256px;top:833px;width:1527px;height:341px;border:1px solid #d6d6df;border-bottom:2px solid #d3d3dc;background:#fff"></div>
<div style="left:257px;top:834px;width:1525px;height:32px;background:#efeff4"></div>
<div style="left:257px;top:867px;width:1517px;height:36px;background:#fff"></div>
<div style="left:257px;top:903px;width:1517px;height:1px;background:#d6d6df"></div>
<div style="left:257px;top:904px;width:1517px;height:36px;background:#f6f6f8"></div>
<div style="left:257px;top:940px;width:1517px;height:1px;background:#d6d6df"></div>
<div style="left:257px;top:941px;width:1517px;height:36px;background:#fff"></div>
<div style="left:257px;top:977px;width:1517px;height:1px;background:#d6d6df"></div>
<div style="left:257px;top:978px;width:1517px;height:36px;background:#f6f6f8"></div>
<div style="left:257px;top:1014px;width:1517px;height:1px;background:#d6d6df"></div>
<div style="left:257px;top:1015px;width:1517px;height:36px;background:#fff"></div>
<div style="left:257px;top:1051px;width:1517px;height:1px;background:#d6d6df"></div>
<div style="left:257px;top:1052px;width:1517px;height:36px;background:#f6f6f8"></div>
<div style="left:257px;top:1088px;width:1517px;height:1px;background:#d6d6df"></div>
<div style="left:257px;top:1089px;width:1517px;height:36px;background:#fff"></div>
<div style="left:257px;top:1125px;width:1517px;height:1px;background:#d6d6df"></div>
<div style="left:257px;top:1126px;width:1517px;height:36px;background:#f6f6f8"></div>
<div style="left:257px;top:1162px;width:1517px;height:1px;background:#d6d6df"></div>
<div style="left:257px;top:866px;width:1525px;height:1px;background:#d6d6df"></div>
<div style="left:437px;top:834px;width:1px;height:329px;background:#d6d6df"></div>
<div style="left:551px;top:834px;width:1px;height:329px;background:#d6d6df"></div>
<div style="left:681px;top:834px;width:1px;height:329px;background:#d6d6df"></div>
<div style="left:777px;top:834px;width:1px;height:329px;background:#d6d6df"></div>
<div style="left:872px;top:834px;width:1px;height:329px;background:#d6d6df"></div>
<div style="left:981px;top:834px;width:1px;height:329px;background:#d6d6df"></div>
<div style="left:1138px;top:834px;width:1px;height:329px;background:#d6d6df"></div>
<div style="left:1300px;top:834px;width:1px;height:329px;background:#d6d6df"></div>
<div style="left:1726px;top:834px;width:1px;height:329px;background:#d6d6df"></div>
<div style="left:1774px;top:867px;width:1px;height:296px;background:#d6d6df"></div>
<div style="left:1727px;top:834px;width:55px;height:32px;background:#e5f4fb"></div>
<div style="left:1735px;top:838px;width:24px;height:24px;background:#d0e9f6;border-radius:50%"></div>
<svg style="position:absolute;left:1738px;top:841px;" width="18" height="18" viewBox="0 0 18 18" fill="none"><g stroke="#232850" stroke-width="1.5" fill="none" stroke-linejoin="round"><path d="M7.67 3.46 L7.99 1.47 L10.01 1.47 L10.33 3.46 L11.98 4.14 L13.61 2.96 L15.04 4.39 L13.86 6.02 L14.54 7.67 L16.53 7.99 L16.53 10.01 L14.54 10.33 L13.86 11.98 L15.04 13.61 L13.61 15.04 L11.98 13.86 L10.33 14.54 L10.01 16.53 L7.99 16.53 L7.67 14.54 L6.02 13.86 L4.39 15.04 L2.96 13.61 L4.14 11.98 L3.46 10.33 L1.47 10.01 L1.47 7.99 L3.46 7.67 L4.14 6.02 L2.96 4.39 L4.39 2.96 L6.02 4.14Z"/><circle cx="9" cy="9" r="2.5"/></g></svg>
<div style="left:1757px;top:837px;width:5px;height:5px;background:#ef5a5a;border-radius:50%"></div>
<div style="left:1744.65px;top:879.75px;width:2.7px;height:2.7px;background:#3a3d60;border-radius:50%"></div>
<div style="left:1744.65px;top:883.65px;width:2.7px;height:2.7px;background:#3a3d60;border-radius:50%"></div>
<div style="left:1744.65px;top:887.55px;width:2.7px;height:2.7px;background:#3a3d60;border-radius:50%"></div>
<div style="left:1744.65px;top:916.75px;width:2.7px;height:2.7px;background:#3a3d60;border-radius:50%"></div>
<div style="left:1744.65px;top:920.65px;width:2.7px;height:2.7px;background:#3a3d60;border-radius:50%"></div>
<div style="left:1744.65px;top:924.55px;width:2.7px;height:2.7px;background:#3a3d60;border-radius:50%"></div>
<div style="left:1744.65px;top:953.75px;width:2.7px;height:2.7px;background:#3a3d60;border-radius:50%"></div>
<div style="left:1744.65px;top:957.65px;width:2.7px;height:2.7px;background:#3a3d60;border-radius:50%"></div>
<div style="left:1744.65px;top:961.55px;width:2.7px;height:2.7px;background:#3a3d60;border-radius:50%"></div>
<div style="left:1744.65px;top:990.75px;width:2.7px;height:2.7px;background:#3a3d60;border-radius:50%"></div>
<div style="left:1744.65px;top:994.65px;width:2.7px;height:2.7px;background:#3a3d60;border-radius:50%"></div>
<div style="left:1744.65px;top:998.55px;width:2.7px;height:2.7px;background:#3a3d60;border-radius:50%"></div>
<div style="left:1744.65px;top:1027.75px;width:2.7px;height:2.7px;background:#3a3d60;border-radius:50%"></div>
<div style="left:1744.65px;top:1031.65px;width:2.7px;height:2.7px;background:#3a3d60;border-radius:50%"></div>
<div style="left:1744.65px;top:1035.5500000000002px;width:2.7px;height:2.7px;background:#3a3d60;border-radius:50%"></div>
<div style="left:1744.65px;top:1064.75px;width:2.7px;height:2.7px;background:#3a3d60;border-radius:50%"></div>
<div style="left:1744.65px;top:1068.65px;width:2.7px;height:2.7px;background:#3a3d60;border-radius:50%"></div>
<div style="left:1744.65px;top:1072.5500000000002px;width:2.7px;height:2.7px;background:#3a3d60;border-radius:50%"></div>
<div style="left:1744.65px;top:1101.75px;width:2.7px;height:2.7px;background:#3a3d60;border-radius:50%"></div>
<div style="left:1744.65px;top:1105.65px;width:2.7px;height:2.7px;background:#3a3d60;border-radius:50%"></div>
<div style="left:1744.65px;top:1109.5500000000002px;width:2.7px;height:2.7px;background:#3a3d60;border-radius:50%"></div>
<div style="left:1744.65px;top:1138.75px;width:2.7px;height:2.7px;background:#3a3d60;border-radius:50%"></div>
<div style="left:1744.65px;top:1142.65px;width:2.7px;height:2.7px;background:#3a3d60;border-radius:50%"></div>
<div style="left:1744.65px;top:1146.5500000000002px;width:2.7px;height:2.7px;background:#3a3d60;border-radius:50%"></div>
<div style="left:1712px;top:867px;width:14px;height:296px;background:linear-gradient(90deg,rgba(0,0,0,0),rgba(0,0,0,0.035))"></div>
<div style="left:1776px;top:868px;width:6px;height:193px;background:#bde3f6;border-radius:3px"></div>
<div style="left:1774px;top:1162px;width:8px;height:10px;background:#d6d6df"></div>
<div style="left:259px;top:1164px;width:911px;height:6px;background:#bde3f6;border-radius:3px"></div>
<div class="t" style="left:309px;top:878.75px;font-size:14px;color:#2d3157;font-weight:400;">Abanowski</div>
<div class="t" style="left:453px;top:878.75px;font-size:14px;color:#2d3157;font-weight:400;">Antoni</div>
<div class="t" style="left:565px;top:878.75px;font-size:14px;color:#2d3157;font-weight:400;letter-spacing:-0.3px">34783212</div>
<div class="t" style="left:696px;top:878.75px;font-size:14px;color:#2d3157;font-weight:400;">Wyższe</div>
<div class="t" style="left:792px;top:878.75px;font-size:14px;color:#2d3157;font-weight:400;">IST</div>
<div style="left:837px;top:892px;width:3px;height:2px;background:#4fba6f"></div>
<div style="left:841px;top:889px;width:3px;height:5px;background:#4fba6f"></div>
<div style="left:845px;top:885px;width:3px;height:9px;background:#4fba6f"></div>
<div style="left:849px;top:881px;width:3px;height:13px;background:#4fba6f;border:1px solid #cfd0da;border-bottom:0;background:linear-gradient(#fff 0 3px,#4fba6f 3px)"></div>
<div style="left:853px;top:876px;width:3px;height:18px;border:1px solid #cfd0da;background:#fff"></div>
<div class="t" style="left:891px;top:878.75px;font-size:14px;color:#2d3157;font-weight:400;">Stacjon...</div>
<div class="t" style="left:1000px;top:878.75px;font-size:14px;color:#2d3157;font-weight:400;">Administracja Pu...</div>
<div class="t" style="left:1156px;top:878.75px;font-size:14px;color:#2d3157;font-weight:400;">Biznes międzyn...</div>
<div style="left:1317px;top:876px;width:30px;height:18px;background:#5bc3f0;border-radius:2px"></div>
<div class="t" style="left:1132px;width:400px;text-align:center;top:878.5px;font-size:13px;color:#fff;font-weight:400;-webkit-text-stroke:0.15px #fff">16</div>
<div style="left:277px;top:878px;width:15px;height:15px;border:2px solid #c3c3cf;border-radius:2.5px;background:#fff"></div>
<div class="t" style="left:309px;top:915.75px;font-size:14px;color:#2d3157;font-weight:400;">Abanowski</div>
<div class="t" style="left:453px;top:915.75px;font-size:14px;color:#2d3157;font-weight:400;">Antoni</div>
<div class="t" style="left:565px;top:915.75px;font-size:14px;color:#2d3157;font-weight:400;letter-spacing:-0.3px">34783212</div>
<div class="t" style="left:696px;top:915.75px;font-size:14px;color:#2d3157;font-weight:400;">Wyższe</div>
<div class="t" style="left:792px;top:915.75px;font-size:14px;color:#2d3157;font-weight:400;">IST</div>
<div style="left:837px;top:929px;width:3px;height:2px;background:#4fba6f"></div>
<div style="left:841px;top:926px;width:3px;height:5px;background:#4fba6f"></div>
<div style="left:845px;top:922px;width:3px;height:9px;background:#4fba6f"></div>
<div style="left:849px;top:918px;width:3px;height:13px;background:#4fba6f;border:1px solid #cfd0da;border-bottom:0;background:linear-gradient(#fff 0 3px,#4fba6f 3px)"></div>
<div style="left:853px;top:913px;width:3px;height:18px;border:1px solid #cfd0da;background:#fff"></div>
<div class="t" style="left:891px;top:915.75px;font-size:14px;color:#2d3157;font-weight:400;">Stacjon...</div>
<div class="t" style="left:1000px;top:915.75px;font-size:14px;color:#2d3157;font-weight:400;">Administracja Pu...</div>
<div class="t" style="left:1156px;top:915.75px;font-size:14px;color:#2d3157;font-weight:400;">Biznes międzyn...</div>
<div style="left:1317px;top:913px;width:30px;height:18px;background:#5bc3f0;border-radius:2px"></div>
<div class="t" style="left:1132px;width:400px;text-align:center;top:915.5px;font-size:13px;color:#fff;font-weight:400;-webkit-text-stroke:0.15px #fff">16</div>
<div style="left:277px;top:915px;width:15px;height:15px;background:#6f7190;border-radius:2.5px"></div>
<svg style="position:absolute;left:277px;top:915px;" width="15" height="15" viewBox="0 0 15 15" fill="none"><path d="M3.6 7.6l2.6 2.6 5.2-5.4" stroke="#fff" stroke-width="1.7" fill="none" stroke-linecap="round" stroke-linejoin="round"/></svg>
<div class="t" style="left:309px;top:952.75px;font-size:14px;color:#2d3157;font-weight:400;">Abanowski</div>
<div class="t" style="left:453px;top:952.75px;font-size:14px;color:#2d3157;font-weight:400;">Antoni</div>
<div class="t" style="left:565px;top:952.75px;font-size:14px;color:#2d3157;font-weight:400;letter-spacing:-0.3px">34783212</div>
<div class="t" style="left:696px;top:952.75px;font-size:14px;color:#2d3157;font-weight:400;">Wyższe</div>
<div class="t" style="left:792px;top:952.75px;font-size:14px;color:#2d3157;font-weight:400;">IST</div>
<div style="left:837px;top:966px;width:3px;height:2px;background:#4fba6f"></div>
<div style="left:841px;top:963px;width:3px;height:5px;background:#4fba6f"></div>
<div style="left:845px;top:959px;width:3px;height:9px;background:#4fba6f"></div>
<div style="left:849px;top:955px;width:3px;height:13px;background:#4fba6f;border:1px solid #cfd0da;border-bottom:0;background:linear-gradient(#fff 0 3px,#4fba6f 3px)"></div>
<div style="left:853px;top:950px;width:3px;height:18px;border:1px solid #cfd0da;background:#fff"></div>
<div class="t" style="left:891px;top:952.75px;font-size:14px;color:#2d3157;font-weight:400;">Stacjon...</div>
<div class="t" style="left:1000px;top:952.75px;font-size:14px;color:#2d3157;font-weight:400;">Administracja Pu...</div>
<div class="t" style="left:1156px;top:952.75px;font-size:14px;color:#2d3157;font-weight:400;">Biznes międzyn...</div>
<div style="left:1317px;top:950px;width:30px;height:18px;background:#5bc3f0;border-radius:2px"></div>
<div class="t" style="left:1132px;width:400px;text-align:center;top:952.5px;font-size:13px;color:#fff;font-weight:400;-webkit-text-stroke:0.15px #fff">16</div>
<div style="left:277px;top:952px;width:15px;height:15px;background:#6f7190;border-radius:2.5px"></div>
<svg style="position:absolute;left:277px;top:952px;" width="15" height="15" viewBox="0 0 15 15" fill="none"><path d="M3.6 7.6l2.6 2.6 5.2-5.4" stroke="#fff" stroke-width="1.7" fill="none" stroke-linecap="round" stroke-linejoin="round"/></svg>
<div class="t" style="left:309px;top:989.75px;font-size:14px;color:#2d3157;font-weight:400;">Abanowski</div>
<div class="t" style="left:453px;top:989.75px;font-size:14px;color:#2d3157;font-weight:400;">Antoni</div>
<div class="t" style="left:565px;top:989.75px;font-size:14px;color:#2d3157;font-weight:400;letter-spacing:-0.3px">34783212</div>
<div class="t" style="left:696px;top:989.75px;font-size:14px;color:#2d3157;font-weight:400;">Wyższe</div>
<div class="t" style="left:792px;top:989.75px;font-size:14px;color:#2d3157;font-weight:400;">IST</div>
<div style="left:837px;top:1003px;width:3px;height:2px;background:#4fba6f"></div>
<div style="left:841px;top:1000px;width:3px;height:5px;background:#4fba6f"></div>
<div style="left:845px;top:996px;width:3px;height:9px;background:#4fba6f"></div>
<div style="left:849px;top:992px;width:3px;height:13px;background:#4fba6f;border:1px solid #cfd0da;border-bottom:0;background:linear-gradient(#fff 0 3px,#4fba6f 3px)"></div>
<div style="left:853px;top:987px;width:3px;height:18px;border:1px solid #cfd0da;background:#fff"></div>
<div class="t" style="left:891px;top:989.75px;font-size:14px;color:#2d3157;font-weight:400;">Stacjon...</div>
<div class="t" style="left:1000px;top:989.75px;font-size:14px;color:#2d3157;font-weight:400;">Administracja Pu...</div>
<div class="t" style="left:1156px;top:989.75px;font-size:14px;color:#2d3157;font-weight:400;">Biznes międzyn...</div>
<div style="left:1317px;top:987px;width:30px;height:18px;background:#5bc3f0;border-radius:2px"></div>
<div class="t" style="left:1132px;width:400px;text-align:center;top:989.5px;font-size:13px;color:#fff;font-weight:400;-webkit-text-stroke:0.15px #fff">16</div>
<div style="left:277px;top:989px;width:15px;height:15px;border:2px solid #c3c3cf;border-radius:2.5px;background:#fff"></div>
<div class="t" style="left:309px;top:1026.75px;font-size:14px;color:#2d3157;font-weight:400;">Abanowski</div>
<div class="t" style="left:453px;top:1026.75px;font-size:14px;color:#2d3157;font-weight:400;">Antoni</div>
<div class="t" style="left:565px;top:1026.75px;font-size:14px;color:#2d3157;font-weight:400;letter-spacing:-0.3px">34783212</div>
<div class="t" style="left:696px;top:1026.75px;font-size:14px;color:#2d3157;font-weight:400;">Wyższe</div>
<div class="t" style="left:792px;top:1026.75px;font-size:14px;color:#2d3157;font-weight:400;">IST</div>
<div style="left:837px;top:1040px;width:3px;height:2px;background:#4fba6f"></div>
<div style="left:841px;top:1037px;width:3px;height:5px;background:#4fba6f"></div>
<div style="left:845px;top:1033px;width:3px;height:9px;background:#4fba6f"></div>
<div style="left:849px;top:1029px;width:3px;height:13px;background:#4fba6f;border:1px solid #cfd0da;border-bottom:0;background:linear-gradient(#fff 0 3px,#4fba6f 3px)"></div>
<div style="left:853px;top:1024px;width:3px;height:18px;border:1px solid #cfd0da;background:#fff"></div>
<div class="t" style="left:891px;top:1026.75px;font-size:14px;color:#2d3157;font-weight:400;">Stacjon...</div>
<div class="t" style="left:1000px;top:1026.75px;font-size:14px;color:#2d3157;font-weight:400;">Administracja Pu...</div>
<div class="t" style="left:1156px;top:1026.75px;font-size:14px;color:#2d3157;font-weight:400;">Biznes międzyn...</div>
<div style="left:1317px;top:1024px;width:30px;height:18px;background:#5bc3f0;border-radius:2px"></div>
<div class="t" style="left:1132px;width:400px;text-align:center;top:1026.5px;font-size:13px;color:#fff;font-weight:400;-webkit-text-stroke:0.15px #fff">16</div>
<div style="left:277px;top:1026px;width:15px;height:15px;background:#6f7190;border-radius:2.5px"></div>
<svg style="position:absolute;left:277px;top:1026px;" width="15" height="15" viewBox="0 0 15 15" fill="none"><path d="M3.6 7.6l2.6 2.6 5.2-5.4" stroke="#fff" stroke-width="1.7" fill="none" stroke-linecap="round" stroke-linejoin="round"/></svg>
<div class="t" style="left:309px;top:1063.75px;font-size:14px;color:#2d3157;font-weight:400;">Abanowski</div>
<div class="t" style="left:453px;top:1063.75px;font-size:14px;color:#2d3157;font-weight:400;">Antoni</div>
<div class="t" style="left:565px;top:1063.75px;font-size:14px;color:#2d3157;font-weight:400;letter-spacing:-0.3px">34783212</div>
<div class="t" style="left:696px;top:1063.75px;font-size:14px;color:#2d3157;font-weight:400;">Wyższe</div>
<div class="t" style="left:792px;top:1063.75px;font-size:14px;color:#2d3157;font-weight:400;">IST</div>
<div style="left:837px;top:1077px;width:3px;height:2px;background:#4fba6f"></div>
<div style="left:841px;top:1074px;width:3px;height:5px;background:#4fba6f"></div>
<div style="left:845px;top:1070px;width:3px;height:9px;background:#4fba6f"></div>
<div style="left:849px;top:1066px;width:3px;height:13px;background:#4fba6f;border:1px solid #cfd0da;border-bottom:0;background:linear-gradient(#fff 0 3px,#4fba6f 3px)"></div>
<div style="left:853px;top:1061px;width:3px;height:18px;border:1px solid #cfd0da;background:#fff"></div>
<div class="t" style="left:891px;top:1063.75px;font-size:14px;color:#2d3157;font-weight:400;">Stacjon...</div>
<div class="t" style="left:1000px;top:1063.75px;font-size:14px;color:#2d3157;font-weight:400;">Administracja Pu...</div>
<div class="t" style="left:1156px;top:1063.75px;font-size:14px;color:#2d3157;font-weight:400;">Biznes międzyn...</div>
<div style="left:1317px;top:1061px;width:30px;height:18px;background:#5bc3f0;border-radius:2px"></div>
<div class="t" style="left:1132px;width:400px;text-align:center;top:1063.5px;font-size:13px;color:#fff;font-weight:400;-webkit-text-stroke:0.15px #fff">16</div>
<div style="left:277px;top:1063px;width:15px;height:15px;background:#6f7190;border-radius:2.5px"></div>
<svg style="position:absolute;left:277px;top:1063px;" width="15" height="15" viewBox="0 0 15 15" fill="none"><path d="M3.6 7.6l2.6 2.6 5.2-5.4" stroke="#fff" stroke-width="1.7" fill="none" stroke-linecap="round" stroke-linejoin="round"/></svg>
<div class="t" style="left:309px;top:1100.75px;font-size:14px;color:#2d3157;font-weight:400;">Abanowski</div>
<div class="t" style="left:453px;top:1100.75px;font-size:14px;color:#2d3157;font-weight:400;">Antoni</div>
<div class="t" style="left:565px;top:1100.75px;font-size:14px;color:#2d3157;font-weight:400;letter-spacing:-0.3px">34783212</div>
<div class="t" style="left:696px;top:1100.75px;font-size:14px;color:#2d3157;font-weight:400;">Wyższe</div>
<div class="t" style="left:792px;top:1100.75px;font-size:14px;color:#2d3157;font-weight:400;">IST</div>
<div style="left:837px;top:1114px;width:3px;height:2px;background:#4fba6f"></div>
<div style="left:841px;top:1111px;width:3px;height:5px;background:#4fba6f"></div>
<div style="left:845px;top:1107px;width:3px;height:9px;background:#4fba6f"></div>
<div style="left:849px;top:1103px;width:3px;height:13px;background:#4fba6f;border:1px solid #cfd0da;border-bottom:0;background:linear-gradient(#fff 0 3px,#4fba6f 3px)"></div>
<div style="left:853px;top:1098px;width:3px;height:18px;border:1px solid #cfd0da;background:#fff"></div>
<div class="t" style="left:891px;top:1100.75px;font-size:14px;color:#2d3157;font-weight:400;">Stacjon...</div>
<div class="t" style="left:1000px;top:1100.75px;font-size:14px;color:#2d3157;font-weight:400;">Administracja Pu...</div>
<div class="t" style="left:1156px;top:1100.75px;font-size:14px;color:#2d3157;font-weight:400;">Biznes międzyn...</div>
<div style="left:1317px;top:1098px;width:30px;height:18px;background:#5bc3f0;border-radius:2px"></div>
<div class="t" style="left:1132px;width:400px;text-align:center;top:1100.5px;font-size:13px;color:#fff;font-weight:400;-webkit-text-stroke:0.15px #fff">16</div>
<div style="left:277px;top:1100px;width:15px;height:15px;border:2px solid #c3c3cf;border-radius:2.5px;background:#fff"></div>
<div class="t" style="left:309px;top:1137.75px;font-size:14px;color:#2d3157;font-weight:400;">Abanowski</div>
<div class="t" style="left:453px;top:1137.75px;font-size:14px;color:#2d3157;font-weight:400;">Antoni</div>
<div class="t" style="left:565px;top:1137.75px;font-size:14px;color:#2d3157;font-weight:400;letter-spacing:-0.3px">34783212</div>
<div class="t" style="left:696px;top:1137.75px;font-size:14px;color:#2d3157;font-weight:400;">Wyższe</div>
<div class="t" style="left:792px;top:1137.75px;font-size:14px;color:#2d3157;font-weight:400;">IST</div>
<div style="left:837px;top:1151px;width:3px;height:2px;background:#4fba6f"></div>
<div style="left:841px;top:1148px;width:3px;height:5px;background:#4fba6f"></div>
<div style="left:845px;top:1144px;width:3px;height:9px;background:#4fba6f"></div>
<div style="left:849px;top:1140px;width:3px;height:13px;background:#4fba6f;border:1px solid #cfd0da;border-bottom:0;background:linear-gradient(#fff 0 3px,#4fba6f 3px)"></div>
<div style="left:853px;top:1135px;width:3px;height:18px;border:1px solid #cfd0da;background:#fff"></div>
<div class="t" style="left:891px;top:1137.75px;font-size:14px;color:#2d3157;font-weight:400;">Stacjon...</div>
<div class="t" style="left:1000px;top:1137.75px;font-size:14px;color:#2d3157;font-weight:400;">Administracja Pu...</div>
<div class="t" style="left:1156px;top:1137.75px;font-size:14px;color:#2d3157;font-weight:400;">Biznes międzyn...</div>
<div style="left:1317px;top:1135px;width:30px;height:18px;background:#5bc3f0;border-radius:2px"></div>
<div class="t" style="left:1132px;width:400px;text-align:center;top:1137.5px;font-size:13px;color:#fff;font-weight:400;-webkit-text-stroke:0.15px #fff">16</div>
<div style="left:277px;top:1137px;width:15px;height:15px;background:#6f7190;border-radius:2.5px"></div>
<svg style="position:absolute;left:277px;top:1137px;" width="15" height="15" viewBox="0 0 15 15" fill="none"><path d="M3.6 7.6l2.6 2.6 5.2-5.4" stroke="#fff" stroke-width="1.7" fill="none" stroke-linecap="round" stroke-linejoin="round"/></svg>
<div style="left:277px;top:843px;width:15px;height:15px;background:#6f7190;border-radius:2.5px"></div>
<div style="left:280.5px;top:849.5px;width:8px;height:2px;background:#fff"></div>
<svg style="position:absolute;left:296px;top:849px;" width="7" height="4" viewBox="0 0 7 4" fill="none"><path d="M0 0H7L3.5 4z" fill="#232850"/></svg>
<div class="t" style="left:309px;top:844.42px;font-size:12.5px;color:#2d3157;font-weight:400;letter-spacing:-0.25px;-webkit-text-stroke:0.3px #262a4f">Nazwisko</div>
<svg style="position:absolute;left:385px;top:843px;" width="16" height="14" viewBox="0 0 16 14" fill="none"><g fill="#232850" font-family="Liberation Sans" font-weight="700" font-size="6.5"><text x="0" y="6">Z</text><text x="0" y="13.5">A</text></g><path d="M10.5 0.5v12M6.8 9l3.7 4 3.7-4" stroke="#232850" stroke-width="1.5" fill="none"/></svg>
<div class="t" style="left:402px;top:844.0px;font-size:13px;color:#5c5f7c;font-weight:400;">2</div>
<svg style="position:absolute;left:415px;top:845px;" width="14" height="11" viewBox="0 0 14 11" fill="none"><g fill="#232850"><rect x="0" y="0" width="14" height="2" rx="1"/><rect x="3" y="4.5" width="8" height="2" rx="1"/><rect x="5.5" y="9" width="3" height="2" rx="1"/></g></svg>
<div class="t" style="left:453px;top:844.42px;font-size:12.5px;color:#2d3157;font-weight:400;letter-spacing:-0.25px;-webkit-text-stroke:0.3px #262a4f">Imię</div>
<svg style="position:absolute;left:499px;top:843px;" width="16" height="14" viewBox="0 0 16 14" fill="none"><g fill="#c9cad6" font-family="Liberation Sans" font-weight="700" font-size="6.5"><text x="0" y="6">A</text><text x="0" y="13.5">Z</text></g><path d="M10.5 0.5v12M6.8 9l3.7 4 3.7-4" stroke="#c9cad6" stroke-width="1.5" fill="none"/></svg>
<div class="t" style="left:516px;top:844.84px;font-size:12px;color:#c9cad6;font-weight:400;">/</div>
<svg style="position:absolute;left:527px;top:845px;" width="14" height="11" viewBox="0 0 14 11" fill="none"><g fill="#c9cad6"><rect x="0" y="0" width="14" height="2" rx="1"/><rect x="3" y="4.5" width="8" height="2" rx="1"/><rect x="5.5" y="9" width="3" height="2" rx="1"/></g></svg>
<div class="t" style="left:565px;top:844.42px;font-size:12.5px;color:#2d3157;font-weight:400;letter-spacing:-0.25px;-webkit-text-stroke:0.3px #262a4f">Nr albumu</div>
<svg style="position:absolute;left:629px;top:843px;" width="16" height="14" viewBox="0 0 16 14" fill="none"><g fill="#c9cad6" font-family="Liberation Sans" font-weight="700" font-size="6.5"><text x="0" y="6">A</text><text x="0" y="13.5">Z</text></g><path d="M10.5 0.5v12M6.8 9l3.7 4 3.7-4" stroke="#c9cad6" stroke-width="1.5" fill="none"/></svg>
<div class="t" style="left:646px;top:844.84px;font-size:12px;color:#c9cad6;font-weight:400;">/</div>
<svg style="position:absolute;left:659px;top:845px;" width="14" height="11" viewBox="0 0 14 11" fill="none"><g fill="#232850"><rect x="0" y="0" width="14" height="2" rx="1"/><rect x="3" y="4.5" width="8" height="2" rx="1"/><rect x="5.5" y="9" width="3" height="2" rx="1"/></g></svg>
<div class="t" style="left:695px;top:844.42px;font-size:12.5px;color:#2d3157;font-weight:400;letter-spacing:-0.25px;-webkit-text-stroke:0.3px #262a4f">Ro...</div>
<svg style="position:absolute;left:726px;top:843px;" width="16" height="14" viewBox="0 0 16 14" fill="none"><g fill="#c9cad6" font-family="Liberation Sans" font-weight="700" font-size="6.5"><text x="0" y="6">A</text><text x="0" y="13.5">Z</text></g><path d="M10.5 0.5v12M6.8 9l3.7 4 3.7-4" stroke="#c9cad6" stroke-width="1.5" fill="none"/></svg>
<div class="t" style="left:743px;top:844.84px;font-size:12px;color:#c9cad6;font-weight:400;">/</div>
<svg style="position:absolute;left:754px;top:845px;" width="14" height="11" viewBox="0 0 14 11" fill="none"><g fill="#c9cad6"><rect x="0" y="0" width="14" height="2" rx="1"/><rect x="3" y="4.5" width="8" height="2" rx="1"/><rect x="5.5" y="9" width="3" height="2" rx="1"/></g></svg>
<div class="t" style="left:792px;top:844.42px;font-size:12.5px;color:#2d3157;font-weight:400;letter-spacing:-0.25px;-webkit-text-stroke:0.3px #262a4f">Po...</div>
<svg style="position:absolute;left:821px;top:843px;" width="16" height="14" viewBox="0 0 16 14" fill="none"><g fill="#232850" font-family="Liberation Sans" font-weight="700" font-size="6.5"><text x="0" y="6">Z</text><text x="0" y="13.5">A</text></g><path d="M10.5 0.5v12M6.8 9l3.7 4 3.7-4" stroke="#232850" stroke-width="1.5" fill="none"/></svg>
<div class="t" style="left:838px;top:844.0px;font-size:13px;color:#5c5f7c;font-weight:400;">1</div>
<svg style="position:absolute;left:851px;top:845px;" width="14" height="11" viewBox="0 0 14 11" fill="none"><g fill="#232850"><rect x="0" y="0" width="14" height="2" rx="1"/><rect x="3" y="4.5" width="8" height="2" rx="1"/><rect x="5.5" y="9" width="3" height="2" rx="1"/></g></svg>
<div class="t" style="left:891px;top:844.42px;font-size:12.5px;color:#2d3157;font-weight:400;letter-spacing:-0.25px;-webkit-text-stroke:0.3px #262a4f">For...</div>
<svg style="position:absolute;left:929px;top:843px;" width="16" height="14" viewBox="0 0 16 14" fill="none"><g fill="#c9cad6" font-family="Liberation Sans" font-weight="700" font-size="6.5"><text x="0" y="6">A</text><text x="0" y="13.5">Z</text></g><path d="M10.5 0.5v12M6.8 9l3.7 4 3.7-4" stroke="#c9cad6" stroke-width="1.5" fill="none"/></svg>
<div class="t" style="left:946px;top:844.84px;font-size:12px;color:#c9cad6;font-weight:400;">/</div>
<svg style="position:absolute;left:958px;top:845px;" width="14" height="11" viewBox="0 0 14 11" fill="none"><g fill="#c9cad6"><rect x="0" y="0" width="14" height="2" rx="1"/><rect x="3" y="4.5" width="8" height="2" rx="1"/><rect x="5.5" y="9" width="3" height="2" rx="1"/></g></svg>
<div class="t" style="left:1000px;top:844.42px;font-size:12.5px;color:#2d3157;font-weight:400;letter-spacing:-0.25px;-webkit-text-stroke:0.3px #262a4f">Kierunek</div>
<svg style="position:absolute;left:1086px;top:843px;" width="16" height="14" viewBox="0 0 16 14" fill="none"><g fill="#c9cad6" font-family="Liberation Sans" font-weight="700" font-size="6.5"><text x="0" y="6">A</text><text x="0" y="13.5">Z</text></g><path d="M10.5 0.5v12M6.8 9l3.7 4 3.7-4" stroke="#c9cad6" stroke-width="1.5" fill="none"/></svg>
<div class="t" style="left:1103px;top:844.84px;font-size:12px;color:#c9cad6;font-weight:400;">/</div>
<svg style="position:absolute;left:1116px;top:845px;" width="14" height="11" viewBox="0 0 14 11" fill="none"><g fill="#232850"><rect x="0" y="0" width="14" height="2" rx="1"/><rect x="3" y="4.5" width="8" height="2" rx="1"/><rect x="5.5" y="9" width="3" height="2" rx="1"/></g></svg>
<div class="t" style="left:1156px;top:844.42px;font-size:12.5px;color:#2d3157;font-weight:400;letter-spacing:-0.25px;-webkit-text-stroke:0.3px #262a4f">Specjalność</div>
<svg style="position:absolute;left:1249px;top:843px;" width="16" height="14" viewBox="0 0 16 14" fill="none"><g fill="#232850" font-family="Liberation Sans" font-weight="700" font-size="6.5"><text x="0" y="6">A</text><text x="0" y="13.5">Z</text></g><path d="M10.5 0.5v12M6.8 9l3.7 4 3.7-4" stroke="#232850" stroke-width="1.5" fill="none"/></svg>
<div class="t" style="left:1266px;top:844.0px;font-size:13px;color:#5c5f7c;font-weight:400;">3</div>
<svg style="position:absolute;left:1278px;top:845px;" width="14" height="11" viewBox="0 0 14 11" fill="none"><g fill="#c9cad6"><rect x="0" y="0" width="14" height="2" rx="1"/><rect x="3" y="4.5" width="8" height="2" rx="1"/><rect x="5.5" y="9" width="3" height="2" rx="1"/></g></svg>
<div class="t" style="left:1318px;top:844.42px;font-size:12.5px;color:#2d3157;font-weight:400;letter-spacing:-0.25px;-webkit-text-stroke:0.3px #262a4f">Grupy</div>
<div class="t" style="left:256px;top:642.84px;font-size:12px;color:#bdbdc8;font-weight:400;">Wyświetlono: 10 / 20 wierszy</div>
<div class="t" style="left:256px;top:663.34px;font-size:12px;color:#bdbdc8;font-weight:400;">Wyświetlono: 6 (+4) / 20 (+2) wierszy</div>
<div class="t" style="left:1726px;top:641.42px;font-size:12.5px;color:#2d3157;font-weight:400;">246</div>
<svg style="position:absolute;left:1764px;top:644px;" width="8" height="11" viewBox="0 0 8 11" fill="none"><path d="M2.5 1.5 6 5.5l-3.5 4" stroke="#232850" stroke-width="1.5" fill="none"/></svg>
<div class="t" style="left:256px;top:1192.84px;font-size:12px;color:#bdbdc8;font-weight:400;">Wyświetlono: 10 wierszy z 20 wierszy</div>
<div class="t" style="left:256px;top:1213.34px;font-size:12px;color:#bdbdc8;font-weight:400;letter-spacing:-0.05px">Wyświetlono: 6 wierszy [+4 podwiersze] z 20 wierszy [+2 podwiersze]</div>
<div class="t" style="left:1726px;top:1191.42px;font-size:12.5px;color:#2d3157;font-weight:400;">246</div>
<svg style="position:absolute;left:1764px;top:1194px;" width="8" height="11" viewBox="0 0 8 11" fill="none"><path d="M2.5 1.5 6 5.5l-3.5 4" stroke="#232850" stroke-width="1.5" fill="none"/></svg>
<div style="left:313px;top:271px;width:198px;height:158px;background:#fff;box-shadow:0 4px 18px rgba(40,40,60,0.13)"></div>
<svg style="position:absolute;left:305px;top:287px;" width="9" height="12" viewBox="0 0 9 12" fill="none"><path d="M9 0V12L0 0z" fill="#fff"/></svg>
<div style="left:313px;top:318px;width:198px;height:32px;background:#e8f5fc"></div>
<div class="t" style="left:333px;top:294.15px;font-size:14px;color:#2d3157;font-weight:400;letter-spacing:-0.15px">Zaznacz wszystko</div>
<div class="t" style="left:333px;top:327.15px;font-size:14px;color:#2d3157;font-weight:400;letter-spacing:-0.15px">Odznacz wszystko</div>
<div class="t" style="left:333px;top:360.15px;font-size:14px;color:#2d3157;font-weight:400;letter-spacing:-0.15px">Zaznacz na tej stronie</div>
<div class="t" style="left:333px;top:393.15px;font-size:14px;color:#2d3157;font-weight:400;letter-spacing:-0.15px">Odznacz na tej stronie</div>
<svg style="position:absolute;left:473px;top:339px;" width="14" height="21" viewBox="0 0 14 21" fill="none"><path d="M1.5 1.5v15.5l3.8-3.6 2.6 6 2.6-1.1-2.6-5.9h5.2z" fill="#fff" stroke="#23263a" stroke-width="1.3" stroke-linejoin="round"/></svg>
<div style="left:685px;top:273px;width:320px;height:412px;background:#fff;box-shadow:0 8px 36px rgba(40,40,60,0.15),0 0 6px rgba(40,40,60,0.05);border-radius:2px"></div>
<div style="left:685px;top:273px;width:320px;height:44px;background:#f5f4f0;border-radius:2px 2px 0 0"></div>
<div style="left:685.0px;top:314px;width:106.66666666666667px;height:3px;background:#5bc3f0"></div>
<svg style="position:absolute;left:731px;top:287px;" width="15" height="14" viewBox="0 0 15 14" fill="none"><g stroke="#5bc3f0" stroke-width="1.4" fill="none" stroke-linejoin="round"><path d="M1 1.2h13L9.3 7.6v5.6H5.7V7.6z"/><path d="M3.2 4.2c2 .6 3.2-.6 5 .2 1.6.6 2.8-.1 3.6-.6"/></g><circle cx="9.3" cy="3.4" r="0.8" fill="#5bc3f0"/></svg>
<div style="left:746.5px;top:280.5px;width:5px;height:5px;background:#ef5a5a;border-radius:50%"></div>
<svg style="position:absolute;left:838px;top:287px;" width="15" height="14" viewBox="0 0 15 14" fill="none"><g stroke="#6f7190" stroke-width="1.3" fill="none"><rect x="0.65" y="0.65" width="13.7" height="12.7"/><path d="M2.4 2.9h10.2M3.4 13V5.6h3.2V13M9.2 13V7.4M11.6 13V7.4"/></g><g fill="#6f7190"><rect x="8.55" y="4.6" width="1.3" height="1.5"/><rect x="10.95" y="4.6" width="1.3" height="1.5"/></g></svg>
<svg style="position:absolute;left:946px;top:287px;" width="15" height="14" viewBox="0 0 15 14" fill="none"><g stroke="#6f7190" stroke-width="1.5" fill="none" stroke-linejoin="round"><path d="M0.75 0.75h10.5l3 3v9.5H0.75z"/><path d="M3.5 0.75v3.5h6.5V0.75"/><path d="M3 13.25V8.2h9v5.05"/></g></svg>
<div style="left:704.5px;top:338.5px;width:15px;height:15px;border:2px solid #c3c3cf;border-radius:50%;background:#fff"></div>
<div class="t" style="left:725px;top:339.15px;font-size:14px;color:#2d3157;font-weight:400;">i</div>
<div style="left:760.5px;top:338.5px;width:15px;height:15px;border:2px solid #5bc3f0;border-radius:50%;background:#fff"></div>
<div style="left:764.5px;top:342.5px;width:7px;height:7px;background:#5bc3f0;border-radius:50%"></div>
<div class="t" style="left:782px;top:339.15px;font-size:14px;color:#2d3157;font-weight:400;">lub</div>
<div style="left:703px;top:396px;width:258px;height:43px;background:#f0f0f3"></div>
<div style="left:703px;top:367px;width:258px;height:30px;border:1px solid #d3d3dc;border-radius:2px;background:#fff"></div>
<div class="t" style="left:719px;top:375.15px;font-size:14px;color:#2d3157;font-weight:400;">Równe</div>
<svg style="position:absolute;left:942px;top:381px;" width="7" height="4" viewBox="0 0 7 4" fill="none"><path d="M0 0H7L3.5 4z" fill="#232850"/></svg>
<div style="left:703px;top:409px;width:186px;height:30px;border:1px solid #d3d3dc;border-radius:2px;background:#fff"></div>
<div class="t" style="left:718px;top:417.15px;font-size:14px;color:#a9aab8;font-weight:400;">Szukaj...</div>
<div style="left:903px;top:409px;width:58px;height:30px;background:#e2f3fc;border:1px solid #a3dbf5;border-radius:2px"></div>
<svg style="position:absolute;left:925px;top:417px;" width="14" height="14" viewBox="0 0 14 14" fill="none"><path d="M7 1v12M1 7h12" stroke="#5bc3f0" stroke-width="1.6"/></svg>
<div style="left:703px;top:484px;width:258px;height:43px;background:#f0f0f3"></div>
<div style="left:703px;top:455px;width:258px;height:30px;border:1px solid #d3d3dc;border-radius:2px;background:#fff"></div>
<div class="t" style="left:719px;top:463.15px;font-size:14px;color:#2d3157;font-weight:400;">Zawiera</div>
<svg style="position:absolute;left:942px;top:469px;" width="7" height="4" viewBox="0 0 7 4" fill="none"><path d="M0 0H7L3.5 4z" fill="#232850"/></svg>
<div style="left:703px;top:497px;width:186px;height:30px;border:1px solid #d3d3dc;border-radius:2px;background:#fff"></div>
<div class="t" style="left:718px;top:505.15px;font-size:14px;color:#a9aab8;font-weight:400;">Szukaj...</div>
<div style="left:903px;top:497px;width:30px;height:30px;background:#fde9ea;border:1px solid #f6c6c9;border-radius:2px 0 0 2px"></div>
<svg style="position:absolute;left:911px;top:504px;" width="14" height="15" viewBox="0 0 14 15" fill="none"><g stroke="#ef6b6b" stroke-width="1.3" fill="none" stroke-linejoin="round"><path d="M1 3.5h12M5 3.5V1.5h4v2M2.5 3.5l1 10h7l1-10M5.5 6v5M8.5 6v5"/></g></svg>
<div style="left:932px;top:497px;width:29px;height:30px;background:#e2f3fc;border:1px solid #a3dbf5;border-radius:0 2px 2px 0"></div>
<svg style="position:absolute;left:940px;top:505px;" width="14" height="14" viewBox="0 0 14 14" fill="none"><path d="M7 1v12M1 7h12" stroke="#5bc3f0" stroke-width="1.6"/></svg>
<div style="left:978px;top:368px;width:7px;height:134px;background:#c0e5f7;border-radius:4px"></div>
<div style="left:859px;top:631px;width:88px;height:30px;background:#e2f3fc;border:1px solid #a3dbf5;border-radius:2px"></div>
<div class="t" style="left:703px;width:400px;text-align:center;top:640.27px;font-size:11.5px;color:#5bc3f0;font-weight:700;">Wyczyść</div>
<div style="left:955px;top:631px;width:30px;height:30px;background:#5bc3f0;border-radius:2px"></div>
<svg style="position:absolute;left:963.5px;top:639px;" width="15" height="14" viewBox="0 0 15 14" fill="none"><g stroke="#fff" stroke-width="1.25" fill="none" stroke-linejoin="round"><path d="M0.75 0.75h10.5l3 3v9.5H0.75z"/><path d="M3.5 0.75v3.5h6.5V0.75"/><path d="M3 13.25V8.2h9v5.05"/></g></svg>
<div style="left:1366px;top:273px;width:360px;height:474px;background:#fff;box-shadow:0 8px 36px rgba(40,40,60,0.15),0 0 6px rgba(40,40,60,0.05);border-radius:2px"></div>
<div style="left:1366px;top:273px;width:360px;height:44px;background:#f5f4f0;border-radius:2px 2px 0 0"></div>
<div style="left:1486.0px;top:314px;width:120.0px;height:3px;background:#5bc3f0"></div>
<svg style="position:absolute;left:1419px;top:290px;" width="14" height="11" viewBox="0 0 14 11" fill="none"><g fill="#232850"><rect x="0" y="0" width="14" height="2" rx="1"/><rect x="3.08" y="4.5" width="7.840000000000001" height="2" rx="1"/><rect x="5.46" y="9" width="3.08" height="2" rx="1"/></g></svg>
<div style="left:1434.5px;top:282.5px;width:5px;height:5px;background:#ef5a5a;border-radius:50%"></div>
<svg style="position:absolute;left:1539px;top:289px;" width="15" height="14" viewBox="0 0 15 14" fill="none"><g stroke="#3faae6" stroke-width="1.3" fill="none"><rect x="0.65" y="0.65" width="13.7" height="12.7"/><path d="M2.4 2.9h10.2M3.4 13V5.6h3.2V13M9.2 13V7.4M11.6 13V7.4"/></g><g fill="#3faae6"><rect x="8.55" y="4.6" width="1.3" height="1.5"/><rect x="10.95" y="4.6" width="1.3" height="1.5"/></g></svg>
<div style="left:1554.5px;top:282.5px;width:5px;height:5px;background:#ef5a5a;border-radius:50%"></div>
<svg style="position:absolute;left:1660px;top:288px;" width="15" height="14" viewBox="0 0 15 14" fill="none"><g stroke="#232850" stroke-width="1.5" fill="none" stroke-linejoin="round"><path d="M0.75 0.75h10.5l3 3v9.5H0.75z"/><path d="M3.5 0.75v3.5h6.5V0.75"/><path d="M3 13.25V8.2h9v5.05"/></g></svg>
<div style="left:1386px;top:337px;width:320px;height:30px;border:1px solid #d3d3dc;border-radius:2px;background:#fff"></div>
<div class="t" style="left:1402px;top:345.15px;font-size:14px;color:#a9aab8;font-weight:400;">Szukaj (nazwa kolumny)...</div>
<svg style="position:absolute;left:1682px;top:343px;" width="17" height="17" viewBox="0 0 17 17" fill="none"><g stroke="#8d8fa3" stroke-width="1.3" fill="none" stroke-linecap="round"><circle cx="10" cy="7" r="6"/><path d="M5.8 11.2 1.2 15.8"/><path d="M6.8 5a3.6 3.6 0 0 1 2.6-1.6" stroke-width="1"/></g></svg>
<svg style="position:absolute;left:1416px;top:379px;" width="15" height="15" viewBox="0 0 15 15" fill="none"><g stroke="#5bc3f0" stroke-width="1.3" fill="none" stroke-linejoin="round" stroke-linecap="round"><path d="M6.6 1 L1 6.6 l3.2 1.2 2.8 2.8 .6 3.6 L13.4 8.4 l-3.6-.6 L7 5z"/><path d="M10.2 10.2 14 14"/></g><path d="M1.6 14.2 13.6 2.2" stroke="#fff" stroke-width="3.2"/><path d="M1.8 13.4 12.6 2.6" stroke="#5bc3f0" stroke-width="1.3" stroke-linecap="round"/></svg>
<svg style="position:absolute;left:1441px;top:380px;" width="16" height="12" viewBox="0 0 16 12" fill="none"><path d="M1 6l4.5 4.5L15 1" stroke="#5bc3f0" stroke-width="1.6" fill="none"/></svg>
<div class="t" style="left:1463px;top:379.84px;font-size:12px;color:#5bc3f0;font-weight:700;letter-spacing:-0.2px">Wszystko</div>
<div style="left:1397px;top:413px;width:2.8px;height:2.8px;background:#232850;border-radius:50%"></div>
<div style="left:1402px;top:413px;width:2.8px;height:2.8px;background:#232850;border-radius:50%"></div>
<div style="left:1397px;top:418px;width:2.8px;height:2.8px;background:#232850;border-radius:50%"></div>
<div style="left:1402px;top:418px;width:2.8px;height:2.8px;background:#232850;border-radius:50%"></div>
<div style="left:1397px;top:423px;width:2.8px;height:2.8px;background:#232850;border-radius:50%"></div>
<div style="left:1402px;top:423px;width:2.8px;height:2.8px;background:#232850;border-radius:50%"></div>
<svg style="position:absolute;left:1416px;top:412px;" width="15" height="15" viewBox="0 0 15 15" fill="none"><g stroke="#232850" stroke-width="1.3" fill="none" stroke-linejoin="round" stroke-linecap="round"><path d="M6.6 1 L1 6.6 l3.2 1.2 2.8 2.8 .6 3.6 L13.4 8.4 l-3.6-.6 L7 5z"/><path d="M10.2 10.2 14 14"/></g></svg>
<div style="left:1440px;top:411px;width:16px;height:16px;background:#3faae6;border-radius:3px"></div>
<svg style="position:absolute;left:1440px;top:411px;" width="16" height="16" viewBox="0 0 16 16" fill="none"><path d="M3.8 8.2l2.8 2.6 5.6-5.8" stroke="#fff" stroke-width="1.6" fill="none" stroke-linecap="round" stroke-linejoin="round"/></svg>
<div class="t" style="left:1463px;top:412.15px;font-size:14px;color:#2d3157;font-weight:400;letter-spacing:-0.1px">Nazwisko</div>
<svg style="position:absolute;left:1644px;top:416px;" width="11" height="8" viewBox="0 0 11 8" fill="none"><g fill="#c3c4d0"><rect x="0" y="0" width="11" height="1.4"/><rect x="2.5" y="3.3" width="6" height="1.6"/><rect x="4.3" y="6.6" width="2.4" height="1.4"/></g></svg>
<svg style="position:absolute;left:1665px;top:414px;" width="10" height="11" viewBox="0 0 10 11" fill="none"><path d="M5 0.5V10M1 6l4 4 4-4" stroke="#c3c4d0" stroke-width="1.2" fill="none"/></svg>
<div class="t" style="left:1678px;top:414.27px;font-size:11.5px;color:#9a9cb0;font-weight:400;">2</div>
<div style="left:1397px;top:442px;width:2.8px;height:2.8px;background:#232850;border-radius:50%"></div>
<div style="left:1402px;top:442px;width:2.8px;height:2.8px;background:#232850;border-radius:50%"></div>
<div style="left:1397px;top:447px;width:2.8px;height:2.8px;background:#232850;border-radius:50%"></div>
<div style="left:1402px;top:447px;width:2.8px;height:2.8px;background:#232850;border-radius:50%"></div>
<div style="left:1397px;top:452px;width:2.8px;height:2.8px;background:#232850;border-radius:50%"></div>
<div style="left:1402px;top:452px;width:2.8px;height:2.8px;background:#232850;border-radius:50%"></div>
<svg style="position:absolute;left:1416px;top:441px;" width="15" height="15" viewBox="0 0 15 15" fill="none"><g stroke="#232850" stroke-width="1.3" fill="none" stroke-linejoin="round" stroke-linecap="round"><path d="M8.4 1 14 6.6l-3.2 1.2-2.8 2.8-.6 3.6L1.6 8.4l3.6-.6L8 5z"/><path d="M4.8 10.2 1 14"/></g></svg>
<div style="left:1440px;top:440px;width:16px;height:16px;background:#3faae6;border-radius:3px"></div>
<svg style="position:absolute;left:1440px;top:440px;" width="16" height="16" viewBox="0 0 16 16" fill="none"><path d="M3.8 8.2l2.8 2.6 5.6-5.8" stroke="#fff" stroke-width="1.6" fill="none" stroke-linecap="round" stroke-linejoin="round"/></svg>
<div class="t" style="left:1463px;top:441.15px;font-size:14px;color:#2d3157;font-weight:400;letter-spacing:-0.1px">Imię</div>
<div style="left:1397px;top:482px;width:2.8px;height:2.8px;background:#232850;border-radius:50%"></div>
<div style="left:1402px;top:482px;width:2.8px;height:2.8px;background:#232850;border-radius:50%"></div>
<div style="left:1397px;top:487px;width:2.8px;height:2.8px;background:#232850;border-radius:50%"></div>
<div style="left:1402px;top:487px;width:2.8px;height:2.8px;background:#232850;border-radius:50%"></div>
<div style="left:1397px;top:492px;width:2.8px;height:2.8px;background:#232850;border-radius:50%"></div>
<div style="left:1402px;top:492px;width:2.8px;height:2.8px;background:#232850;border-radius:50%"></div>
<svg style="position:absolute;left:1416px;top:481px;" width="15" height="15" viewBox="0 0 15 15" fill="none"><g stroke="#232850" stroke-width="1.3" fill="none" stroke-linejoin="round" stroke-linecap="round"><path d="M6.6 1 L1 6.6 l3.2 1.2 2.8 2.8 .6 3.6 L13.4 8.4 l-3.6-.6 L7 5z"/><path d="M10.2 10.2 14 14"/></g><path d="M1.6 14.2 13.6 2.2" stroke="#fff" stroke-width="3.2"/><path d="M1.8 13.4 12.6 2.6" stroke="#232850" stroke-width="1.3" stroke-linecap="round"/></svg>
<div style="left:1440px;top:480px;width:16px;height:16px;background:#3faae6;border-radius:3px"></div>
<svg style="position:absolute;left:1440px;top:480px;" width="16" height="16" viewBox="0 0 16 16" fill="none"><path d="M3.8 8.2l2.8 2.6 5.6-5.8" stroke="#fff" stroke-width="1.6" fill="none" stroke-linecap="round" stroke-linejoin="round"/></svg>
<div class="t" style="left:1463px;top:481.15px;font-size:14px;color:#2d3157;font-weight:400;letter-spacing:-0.1px">Bezpieczeństwo publiczne</div>
<svg style="position:absolute;left:1665px;top:483px;" width="10" height="11" viewBox="0 0 10 11" fill="none"><path d="M5 0.5V10M1 6l4 4 4-4" stroke="#c3c4d0" stroke-width="1.2" fill="none"/></svg>
<div class="t" style="left:1678px;top:483.27px;font-size:11.5px;color:#9a9cb0;font-weight:400;">3</div>
<div style="left:1397px;top:511px;width:2.8px;height:2.8px;background:#232850;border-radius:50%"></div>
<div style="left:1402px;top:511px;width:2.8px;height:2.8px;background:#232850;border-radius:50%"></div>
<div style="left:1397px;top:516px;width:2.8px;height:2.8px;background:#232850;border-radius:50%"></div>
<div style="left:1402px;top:516px;width:2.8px;height:2.8px;background:#232850;border-radius:50%"></div>
<div style="left:1397px;top:521px;width:2.8px;height:2.8px;background:#232850;border-radius:50%"></div>
<div style="left:1402px;top:521px;width:2.8px;height:2.8px;background:#232850;border-radius:50%"></div>
<svg style="position:absolute;left:1416px;top:510px;" width="15" height="15" viewBox="0 0 15 15" fill="none"><g stroke="#232850" stroke-width="1.3" fill="none" stroke-linejoin="round" stroke-linecap="round"><path d="M6.6 1 L1 6.6 l3.2 1.2 2.8 2.8 .6 3.6 L13.4 8.4 l-3.6-.6 L7 5z"/><path d="M10.2 10.2 14 14"/></g><path d="M1.6 14.2 13.6 2.2" stroke="#fff" stroke-width="3.2"/><path d="M1.8 13.4 12.6 2.6" stroke="#232850" stroke-width="1.3" stroke-linecap="round"/></svg>
<div style="left:1440px;top:509px;width:16px;height:16px;border:2px solid #babbc9;border-radius:3px;background:#fff"></div>
<div class="t" style="left:1463px;top:510.15px;font-size:14px;color:#2d3157;font-weight:400;letter-spacing:-0.1px">Bankowość</div>
<div style="left:1397px;top:540px;width:2.8px;height:2.8px;background:#232850;border-radius:50%"></div>
<div style="left:1402px;top:540px;width:2.8px;height:2.8px;background:#232850;border-radius:50%"></div>
<div style="left:1397px;top:545px;width:2.8px;height:2.8px;background:#232850;border-radius:50%"></div>
<div style="left:1402px;top:545px;width:2.8px;height:2.8px;background:#232850;border-radius:50%"></div>
<div style="left:1397px;top:550px;width:2.8px;height:2.8px;background:#232850;border-radius:50%"></div>
<div style="left:1402px;top:550px;width:2.8px;height:2.8px;background:#232850;border-radius:50%"></div>
<svg style="position:absolute;left:1416px;top:539px;" width="15" height="15" viewBox="0 0 15 15" fill="none"><g stroke="#232850" stroke-width="1.3" fill="none" stroke-linejoin="round" stroke-linecap="round"><path d="M6.6 1 L1 6.6 l3.2 1.2 2.8 2.8 .6 3.6 L13.4 8.4 l-3.6-.6 L7 5z"/><path d="M10.2 10.2 14 14"/></g><path d="M1.6 14.2 13.6 2.2" stroke="#fff" stroke-width="3.2"/><path d="M1.8 13.4 12.6 2.6" stroke="#232850" stroke-width="1.3" stroke-linecap="round"/></svg>
<div style="left:1440px;top:538px;width:16px;height:16px;background:#3faae6;border-radius:3px"></div>
<svg style="position:absolute;left:1440px;top:538px;" width="16" height="16" viewBox="0 0 16 16" fill="none"><path d="M3.8 8.2l2.8 2.6 5.6-5.8" stroke="#fff" stroke-width="1.6" fill="none" stroke-linecap="round" stroke-linejoin="round"/></svg>
<div class="t" style="left:1463px;top:539.15px;font-size:14px;color:#2d3157;font-weight:400;letter-spacing:-0.1px">Finanse małych przedsi...</div>
<svg style="position:absolute;left:1644px;top:543px;" width="11" height="8" viewBox="0 0 11 8" fill="none"><g fill="#c3c4d0"><rect x="0" y="0" width="11" height="1.4"/><rect x="2.5" y="3.3" width="6" height="1.6"/><rect x="4.3" y="6.6" width="2.4" height="1.4"/></g></svg>
<svg style="position:absolute;left:1665px;top:541px;" width="10" height="11" viewBox="0 0 10 11" fill="none"><path d="M5 10.5V1M1 5l4-4 4 4" stroke="#c3c4d0" stroke-width="1.2" fill="none"/></svg>
<div class="t" style="left:1678px;top:541.27px;font-size:11.5px;color:#9a9cb0;font-weight:400;">1</div>
<div style="left:1397px;top:569px;width:2.8px;height:2.8px;background:#232850;border-radius:50%"></div>
<div style="left:1402px;top:569px;width:2.8px;height:2.8px;background:#232850;border-radius:50%"></div>
<div style="left:1397px;top:574px;width:2.8px;height:2.8px;background:#232850;border-radius:50%"></div>
<div style="left:1402px;top:574px;width:2.8px;height:2.8px;background:#232850;border-radius:50%"></div>
<div style="left:1397px;top:579px;width:2.8px;height:2.8px;background:#232850;border-radius:50%"></div>
<div style="left:1402px;top:579px;width:2.8px;height:2.8px;background:#232850;border-radius:50%"></div>
<svg style="position:absolute;left:1416px;top:568px;" width="15" height="15" viewBox="0 0 15 15" fill="none"><g stroke="#232850" stroke-width="1.3" fill="none" stroke-linejoin="round" stroke-linecap="round"><path d="M6.6 1 L1 6.6 l3.2 1.2 2.8 2.8 .6 3.6 L13.4 8.4 l-3.6-.6 L7 5z"/><path d="M10.2 10.2 14 14"/></g><path d="M1.6 14.2 13.6 2.2" stroke="#fff" stroke-width="3.2"/><path d="M1.8 13.4 12.6 2.6" stroke="#232850" stroke-width="1.3" stroke-linecap="round"/></svg>
<div style="left:1440px;top:567px;width:16px;height:16px;background:#3faae6;border-radius:3px"></div>
<svg style="position:absolute;left:1440px;top:567px;" width="16" height="16" viewBox="0 0 16 16" fill="none"><path d="M3.8 8.2l2.8 2.6 5.6-5.8" stroke="#fff" stroke-width="1.6" fill="none" stroke-linecap="round" stroke-linejoin="round"/></svg>
<div class="t" style="left:1463px;top:568.15px;font-size:14px;color:#2d3157;font-weight:400;letter-spacing:-0.1px">Finsnse przedsiębiorstw...</div>
<svg style="position:absolute;left:1665px;top:570px;" width="10" height="11" viewBox="0 0 10 11" fill="none"><path d="M5 0.5V10M1 6l4 4 4-4" stroke="#c3c4d0" stroke-width="1.2" fill="none"/></svg>
<div class="t" style="left:1678px;top:570.27px;font-size:11.5px;color:#9a9cb0;font-weight:400;">4</div>
<div style="left:1397px;top:598px;width:2.8px;height:2.8px;background:#232850;border-radius:50%"></div>
<div style="left:1402px;top:598px;width:2.8px;height:2.8px;background:#232850;border-radius:50%"></div>
<div style="left:1397px;top:603px;width:2.8px;height:2.8px;background:#232850;border-radius:50%"></div>
<div style="left:1402px;top:603px;width:2.8px;height:2.8px;background:#232850;border-radius:50%"></div>
<div style="left:1397px;top:608px;width:2.8px;height:2.8px;background:#232850;border-radius:50%"></div>
<div style="left:1402px;top:608px;width:2.8px;height:2.8px;background:#232850;border-radius:50%"></div>
<svg style="position:absolute;left:1416px;top:597px;" width="15" height="15" viewBox="0 0 15 15" fill="none"><g stroke="#232850" stroke-width="1.3" fill="none" stroke-linejoin="round" stroke-linecap="round"><path d="M6.6 1 L1 6.6 l3.2 1.2 2.8 2.8 .6 3.6 L13.4 8.4 l-3.6-.6 L7 5z"/><path d="M10.2 10.2 14 14"/></g><path d="M1.6 14.2 13.6 2.2" stroke="#fff" stroke-width="3.2"/><path d="M1.8 13.4 12.6 2.6" stroke="#232850" stroke-width="1.3" stroke-linecap="round"/></svg>
<div style="left:1440px;top:596px;width:16px;height:16px;background:#3faae6;border-radius:3px"></div>
<svg style="position:absolute;left:1440px;top:596px;" width="16" height="16" viewBox="0 0 16 16" fill="none"><path d="M3.8 8.2l2.8 2.6 5.6-5.8" stroke="#fff" stroke-width="1.6" fill="none" stroke-linecap="round" stroke-linejoin="round"/></svg>
<div class="t" style="left:1463px;top:597.15px;font-size:14px;color:#2d3157;font-weight:400;letter-spacing:-0.1px">Menedżer finsnsów publ.</div>
<svg style="position:absolute;left:1644px;top:601px;" width="11" height="8" viewBox="0 0 11 8" fill="none"><g fill="#c3c4d0"><rect x="0" y="0" width="11" height="1.4"/><rect x="2.5" y="3.3" width="6" height="1.6"/><rect x="4.3" y="6.6" width="2.4" height="1.4"/></g></svg>
<div style="left:1397px;top:627px;width:2.8px;height:2.8px;background:#232850;border-radius:50%"></div>
<div style="left:1402px;top:627px;width:2.8px;height:2.8px;background:#232850;border-radius:50%"></div>
<div style="left:1397px;top:632px;width:2.8px;height:2.8px;background:#232850;border-radius:50%"></div>
<div style="left:1402px;top:632px;width:2.8px;height:2.8px;background:#232850;border-radius:50%"></div>
<div style="left:1397px;top:637px;width:2.8px;height:2.8px;background:#232850;border-radius:50%"></div>
<div style="left:1402px;top:637px;width:2.8px;height:2.8px;background:#232850;border-radius:50%"></div>
<svg style="position:absolute;left:1416px;top:626px;" width="15" height="15" viewBox="0 0 15 15" fill="none"><g stroke="#232850" stroke-width="1.3" fill="none" stroke-linejoin="round" stroke-linecap="round"><path d="M6.6 1 L1 6.6 l3.2 1.2 2.8 2.8 .6 3.6 L13.4 8.4 l-3.6-.6 L7 5z"/><path d="M10.2 10.2 14 14"/></g><path d="M1.6 14.2 13.6 2.2" stroke="#fff" stroke-width="3.2"/><path d="M1.8 13.4 12.6 2.6" stroke="#232850" stroke-width="1.3" stroke-linecap="round"/></svg>
<div style="left:1440px;top:625px;width:16px;height:16px;border:2px solid #babbc9;border-radius:3px;background:#fff"></div>
<div class="t" style="left:1463px;top:626.15px;font-size:14px;color:#2d3157;font-weight:400;letter-spacing:-0.1px">Podatki i doradztwo po...</div>
<div style="left:1397px;top:656px;width:2.8px;height:2.8px;background:#232850;border-radius:50%"></div>
<div style="left:1402px;top:656px;width:2.8px;height:2.8px;background:#232850;border-radius:50%"></div>
<div style="left:1397px;top:661px;width:2.8px;height:2.8px;background:#232850;border-radius:50%"></div>
<div style="left:1402px;top:661px;width:2.8px;height:2.8px;background:#232850;border-radius:50%"></div>
<div style="left:1397px;top:666px;width:2.8px;height:2.8px;background:#232850;border-radius:50%"></div>
<div style="left:1402px;top:666px;width:2.8px;height:2.8px;background:#232850;border-radius:50%"></div>
<svg style="position:absolute;left:1416px;top:655px;" width="15" height="15" viewBox="0 0 15 15" fill="none"><g stroke="#232850" stroke-width="1.3" fill="none" stroke-linejoin="round" stroke-linecap="round"><path d="M6.6 1 L1 6.6 l3.2 1.2 2.8 2.8 .6 3.6 L13.4 8.4 l-3.6-.6 L7 5z"/><path d="M10.2 10.2 14 14"/></g><path d="M1.6 14.2 13.6 2.2" stroke="#fff" stroke-width="3.2"/><path d="M1.8 13.4 12.6 2.6" stroke="#232850" stroke-width="1.3" stroke-linecap="round"/></svg>
<div style="left:1440px;top:654px;width:16px;height:16px;background:#3faae6;border-radius:3px"></div>
<svg style="position:absolute;left:1440px;top:654px;" width="16" height="16" viewBox="0 0 16 16" fill="none"><path d="M3.8 8.2l2.8 2.6 5.6-5.8" stroke="#fff" stroke-width="1.6" fill="none" stroke-linecap="round" stroke-linejoin="round"/></svg>
<div class="t" style="left:1463px;top:655.15px;font-size:14px;color:#2d3157;font-weight:400;letter-spacing:-0.1px">Kolejna nazwa kolumny</div>
<svg style="position:absolute;left:1644px;top:659px;" width="11" height="8" viewBox="0 0 11 8" fill="none"><g fill="#c3c4d0"><rect x="0" y="0" width="11" height="1.4"/><rect x="2.5" y="3.3" width="6" height="1.6"/><rect x="4.3" y="6.6" width="2.4" height="1.4"/></g></svg>
<div style="left:1386px;top:467px;width:300px;height:2px;background:#e6e6ec"></div>
<div style="left:1698px;top:384px;width:7px;height:134px;background:#c0e5f7;border-radius:4px"></div>
<div style="left:1366px;top:686px;width:360px;height:1px;background:#ececf0"></div>
<div class="t" style="left:1497px;top:709.27px;font-size:11.5px;color:#5cb86b;font-weight:700;letter-spacing:-0.1px">Ustawienia</div>
<div style="left:1577px;top:700px;width:128px;height:28px;background:#e2f3fc;border:1px solid #a3dbf5;border-radius:2px"></div>
<div class="t" style="left:1441px;width:400px;text-align:center;top:708.27px;font-size:11.5px;color:#5bc3f0;font-weight:700;letter-spacing:-0.1px">Wyczyść pinezki</div>
<div style="left:1366px;top:823px;width:360px;height:420px;background:#fff;box-shadow:0 8px 36px rgba(40,40,60,0.15),0 0 6px rgba(40,40,60,0.05);border-radius:2px"></div>
<div style="left:1366px;top:823px;width:360px;height:44px;background:#f5f4f0;border-radius:2px 2px 0 0"></div>
<div style="left:1366.0px;top:864px;width:120.0px;height:3px;background:#5bc3f0"></div>
<svg style="position:absolute;left:1419px;top:840px;" width="14" height="11" viewBox="0 0 14 11" fill="none"><g fill="#5bc3f0"><rect x="0" y="0" width="14" height="2" rx="1"/><rect x="3.08" y="4.5" width="7.840000000000001" height="2" rx="1"/><rect x="5.46" y="9" width="3.08" height="2" rx="1"/></g></svg>
<div style="left:1434.5px;top:832.5px;width:5px;height:5px;background:#ef5a5a;border-radius:50%"></div>
<svg style="position:absolute;left:1539px;top:839px;" width="15" height="14" viewBox="0 0 15 14" fill="none"><g stroke="#232850" stroke-width="1.3" fill="none"><rect x="0.65" y="0.65" width="13.7" height="12.7"/><path d="M2.4 2.9h10.2M3.4 13V5.6h3.2V13M9.2 13V7.4M11.6 13V7.4"/></g><g fill="#232850"><rect x="8.55" y="4.6" width="1.3" height="1.5"/><rect x="10.95" y="4.6" width="1.3" height="1.5"/></g></svg>
<div style="left:1554.5px;top:832.5px;width:5px;height:5px;background:#ef5a5a;border-radius:50%"></div>
<svg style="position:absolute;left:1660px;top:838px;" width="15" height="14" viewBox="0 0 15 14" fill="none"><g stroke="#232850" stroke-width="1.5" fill="none" stroke-linejoin="round"><path d="M0.75 0.75h10.5l3 3v9.5H0.75z"/><path d="M3.5 0.75v3.5h6.5V0.75"/><path d="M3 13.25V8.2h9v5.05"/></g></svg>
<div style="left:1386px;top:887px;width:320px;height:30px;border:1px solid #d3d3dc;border-radius:2px;background:#fff"></div>
<div class="t" style="left:1402px;top:895.15px;font-size:14px;color:#a9aab8;font-weight:400;">Szukaj (nazwa kolumny)...</div>
<svg style="position:absolute;left:1682px;top:893px;" width="17" height="17" viewBox="0 0 17 17" fill="none"><g stroke="#8d8fa3" stroke-width="1.3" fill="none" stroke-linecap="round"><circle cx="10" cy="7" r="6"/><path d="M5.8 11.2 1.2 15.8"/><path d="M6.8 5a3.6 3.6 0 0 1 2.6-1.6" stroke-width="1"/></g></svg>
<svg style="position:absolute;left:1397px;top:934px;" width="8" height="12" viewBox="0 0 8 12" fill="none"><path d="M1.5 1.5 6 6l-4.5 4.5" stroke="#232850" stroke-width="1.6" fill="none"/></svg>
<div class="t" style="left:1413px;top:933.15px;font-size:14px;color:#2d3157;font-weight:400;">Nazwisko</div>
<svg style="position:absolute;left:1642px;top:936px;" width="11" height="8" viewBox="0 0 11 8" fill="none"><g fill="#c3c4d0"><rect x="0" y="0" width="11" height="1.4"/><rect x="2.5" y="3.3" width="6" height="1.6"/><rect x="4.3" y="6.6" width="2.4" height="1.4"/></g></svg>
<svg style="position:absolute;left:1660px;top:933px;" width="16" height="14" viewBox="0 0 16 14" fill="none"><g fill="#c3c4d0" font-family="Liberation Sans" font-weight="700" font-size="6.5"><text x="0" y="6">Z</text><text x="0" y="13.5">A</text></g><path d="M10.5 0.5v12M6.8 9l3.7 4 3.7-4" stroke="#c3c4d0" stroke-width="1.5" fill="none"/></svg>
<div class="t" style="left:1677px;top:935.27px;font-size:11.5px;color:#9a9cb0;font-weight:400;">2</div>
<div style="left:1386px;top:955px;width:319px;height:28px;background:#e8f5fc"></div>
<svg style="position:absolute;left:1395px;top:966px;" width="12" height="8" viewBox="0 0 12 8" fill="none"><path d="M1.5 1.5 6 6l4.5-4.5" stroke="#232850" stroke-width="1.6" fill="none"/></svg>
<div class="t" style="left:1413px;top:962.15px;font-size:14px;color:#2d3157;font-weight:400;">Numer albumu</div>
<svg style="position:absolute;left:1642px;top:965px;" width="11" height="8" viewBox="0 0 11 8" fill="none"><g fill="#c3c4d0"><rect x="0" y="0" width="11" height="1.4"/><rect x="2.5" y="3.3" width="6" height="1.6"/><rect x="4.3" y="6.6" width="2.4" height="1.4"/></g></svg>
<div style="left:1393.5px;top:1003.5px;width:15px;height:15px;border:2px solid #5bc3f0;border-radius:50%;background:#fff"></div>
<div style="left:1397.5px;top:1007.5px;width:7px;height:7px;background:#5bc3f0;border-radius:50%"></div>
<div style="left:1420px;top:997px;width:124px;height:27px;border:1px solid #d3d3dc;border-radius:2px;background:#fff"></div>
<div style="left:1431px;top:991px;width:80.0px;height:10px;background:#fff"></div>
<div class="t" style="left:1435px;top:990.69px;font-size:11px;color:#8d8fa3;font-weight:400;">Nr albumu od</div>
<div class="t" style="left:1435px;top:1004.15px;font-size:14px;color:#2d3157;font-weight:400;letter-spacing:-0.2px">4243168</div>
<div style="left:1554px;top:997px;width:124px;height:27px;border:1px solid #d3d3dc;border-radius:2px;background:#fff"></div>
<div style="left:1565px;top:991px;width:80.0px;height:10px;background:#fff"></div>
<div class="t" style="left:1569px;top:990.69px;font-size:11px;color:#8d8fa3;font-weight:400;">Nr albumu do</div>
<div class="t" style="left:1569px;top:1004.15px;font-size:14px;color:#2d3157;font-weight:400;letter-spacing:-0.2px">4543168</div>
<div style="left:1386px;top:1048px;width:293px;height:2px;background:#e3e3e8"></div>
<div style="left:1497px;top:1046px;width:74px;height:6px;background:#5bc3f0"></div>
<div style="left:1489.5px;top:1041.5px;width:15px;height:15px;border:3.5px solid #5bc3f0;border-radius:50%;background:#fff"></div>
<div style="left:1561.5px;top:1039.5px;width:19px;height:19px;border:4.5px solid #5bc3f0;border-radius:50%;background:#fff"></div>
<div style="left:1393.5px;top:1079.5px;width:15px;height:15px;border:2px solid #c3c3cf;border-radius:50%;background:#fff"></div>
<div style="left:1420px;top:1073px;width:258px;height:28px;border:1px solid #dcdce3;border-radius:2px;background:#f0f0f3"></div>
<div class="t" style="left:1436px;top:1080.15px;font-size:14px;color:#b1b2bf;font-weight:400;">Szukaj (nr albumu)...</div>
<svg style="position:absolute;left:1656px;top:1078px;" width="16" height="16" viewBox="0 0 16 16" fill="none"><g stroke="#9a9cb0" stroke-width="1.3" fill="none" stroke-linecap="round"><circle cx="10" cy="7" r="6"/><path d="M5.8 11.2 1.2 15.8"/><path d="M6.8 5a3.6 3.6 0 0 1 2.6-1.6" stroke-width="1"/></g></svg>
<svg style="position:absolute;left:1606px;top:1118px;" width="10" height="10" viewBox="0 0 10 10" fill="none"><path d="M1 1l8 8M9 1 1 9" stroke="#5bc3f0" stroke-width="1.4"/></svg>
<div class="t" style="left:1625px;top:1116.84px;font-size:12px;color:#5bc3f0;font-weight:700;letter-spacing:0.1px">Wyczyść</div>
<svg style="position:absolute;left:1397px;top:1148px;" width="8" height="12" viewBox="0 0 8 12" fill="none"><path d="M1.5 1.5 6 6l-4.5 4.5" stroke="#c8c9d3" stroke-width="1.4" fill="none"/></svg>
<div class="t" style="left:1413px;top:1147.15px;font-size:14px;color:#c3c4ce;font-weight:400;">Podatki i doradztwo po...</div>
<svg style="position:absolute;left:1397px;top:1177px;" width="8" height="12" viewBox="0 0 8 12" fill="none"><path d="M1.5 1.5 6 6l-4.5 4.5" stroke="#232850" stroke-width="1.6" fill="none"/></svg>
<div class="t" style="left:1413px;top:1176.15px;font-size:14px;color:#2d3157;font-weight:400;">Kolejna nazwa kolumny</div>
<svg style="position:absolute;left:1660px;top:1176px;" width="16" height="14" viewBox="0 0 16 14" fill="none"><g fill="#c3c4d0" font-family="Liberation Sans" font-weight="700" font-size="6.5"><text x="0" y="6">Z</text><text x="0" y="13.5">A</text></g><path d="M10.5 0.5v12M6.8 9l3.7 4 3.7-4" stroke="#c3c4d0" stroke-width="1.5" fill="none"/></svg>
<div class="t" style="left:1677px;top:1178.27px;font-size:11.5px;color:#9a9cb0;font-weight:400;">1</div>
<svg style="position:absolute;left:1397px;top:1206px;" width="8" height="12" viewBox="0 0 8 12" fill="none"><path d="M1.5 1.5 6 6l-4.5 4.5" stroke="#232850" stroke-width="1.6" fill="none"/></svg>
<div class="t" style="left:1413px;top:1205.15px;font-size:14px;color:#2d3157;font-weight:400;">Inna nazwa kolumny</div>
<svg style="position:absolute;left:1642px;top:1208px;" width="11" height="8" viewBox="0 0 11 8" fill="none"><g fill="#c3c4d0"><rect x="0" y="0" width="11" height="1.4"/><rect x="2.5" y="3.3" width="6" height="1.6"/><rect x="4.3" y="6.6" width="2.4" height="1.4"/></g></svg>
<div style="left:1698px;top:934px;width:7px;height:134px;background:#c0e5f7;border-radius:4px"></div>
<div style="left:114px;top:1140px;width:1774px;height:134px;background:linear-gradient(180deg,rgba(255,255,255,0) 0px,rgba(255,255,255,0.1) 20px,rgba(255,255,255,0.35) 48px,rgba(255,255,255,0.48) 60px,rgba(255,255,255,0.7) 77px,rgba(255,255,255,0.9) 100px,#fff 134px)"></div>
</div></body></html>
